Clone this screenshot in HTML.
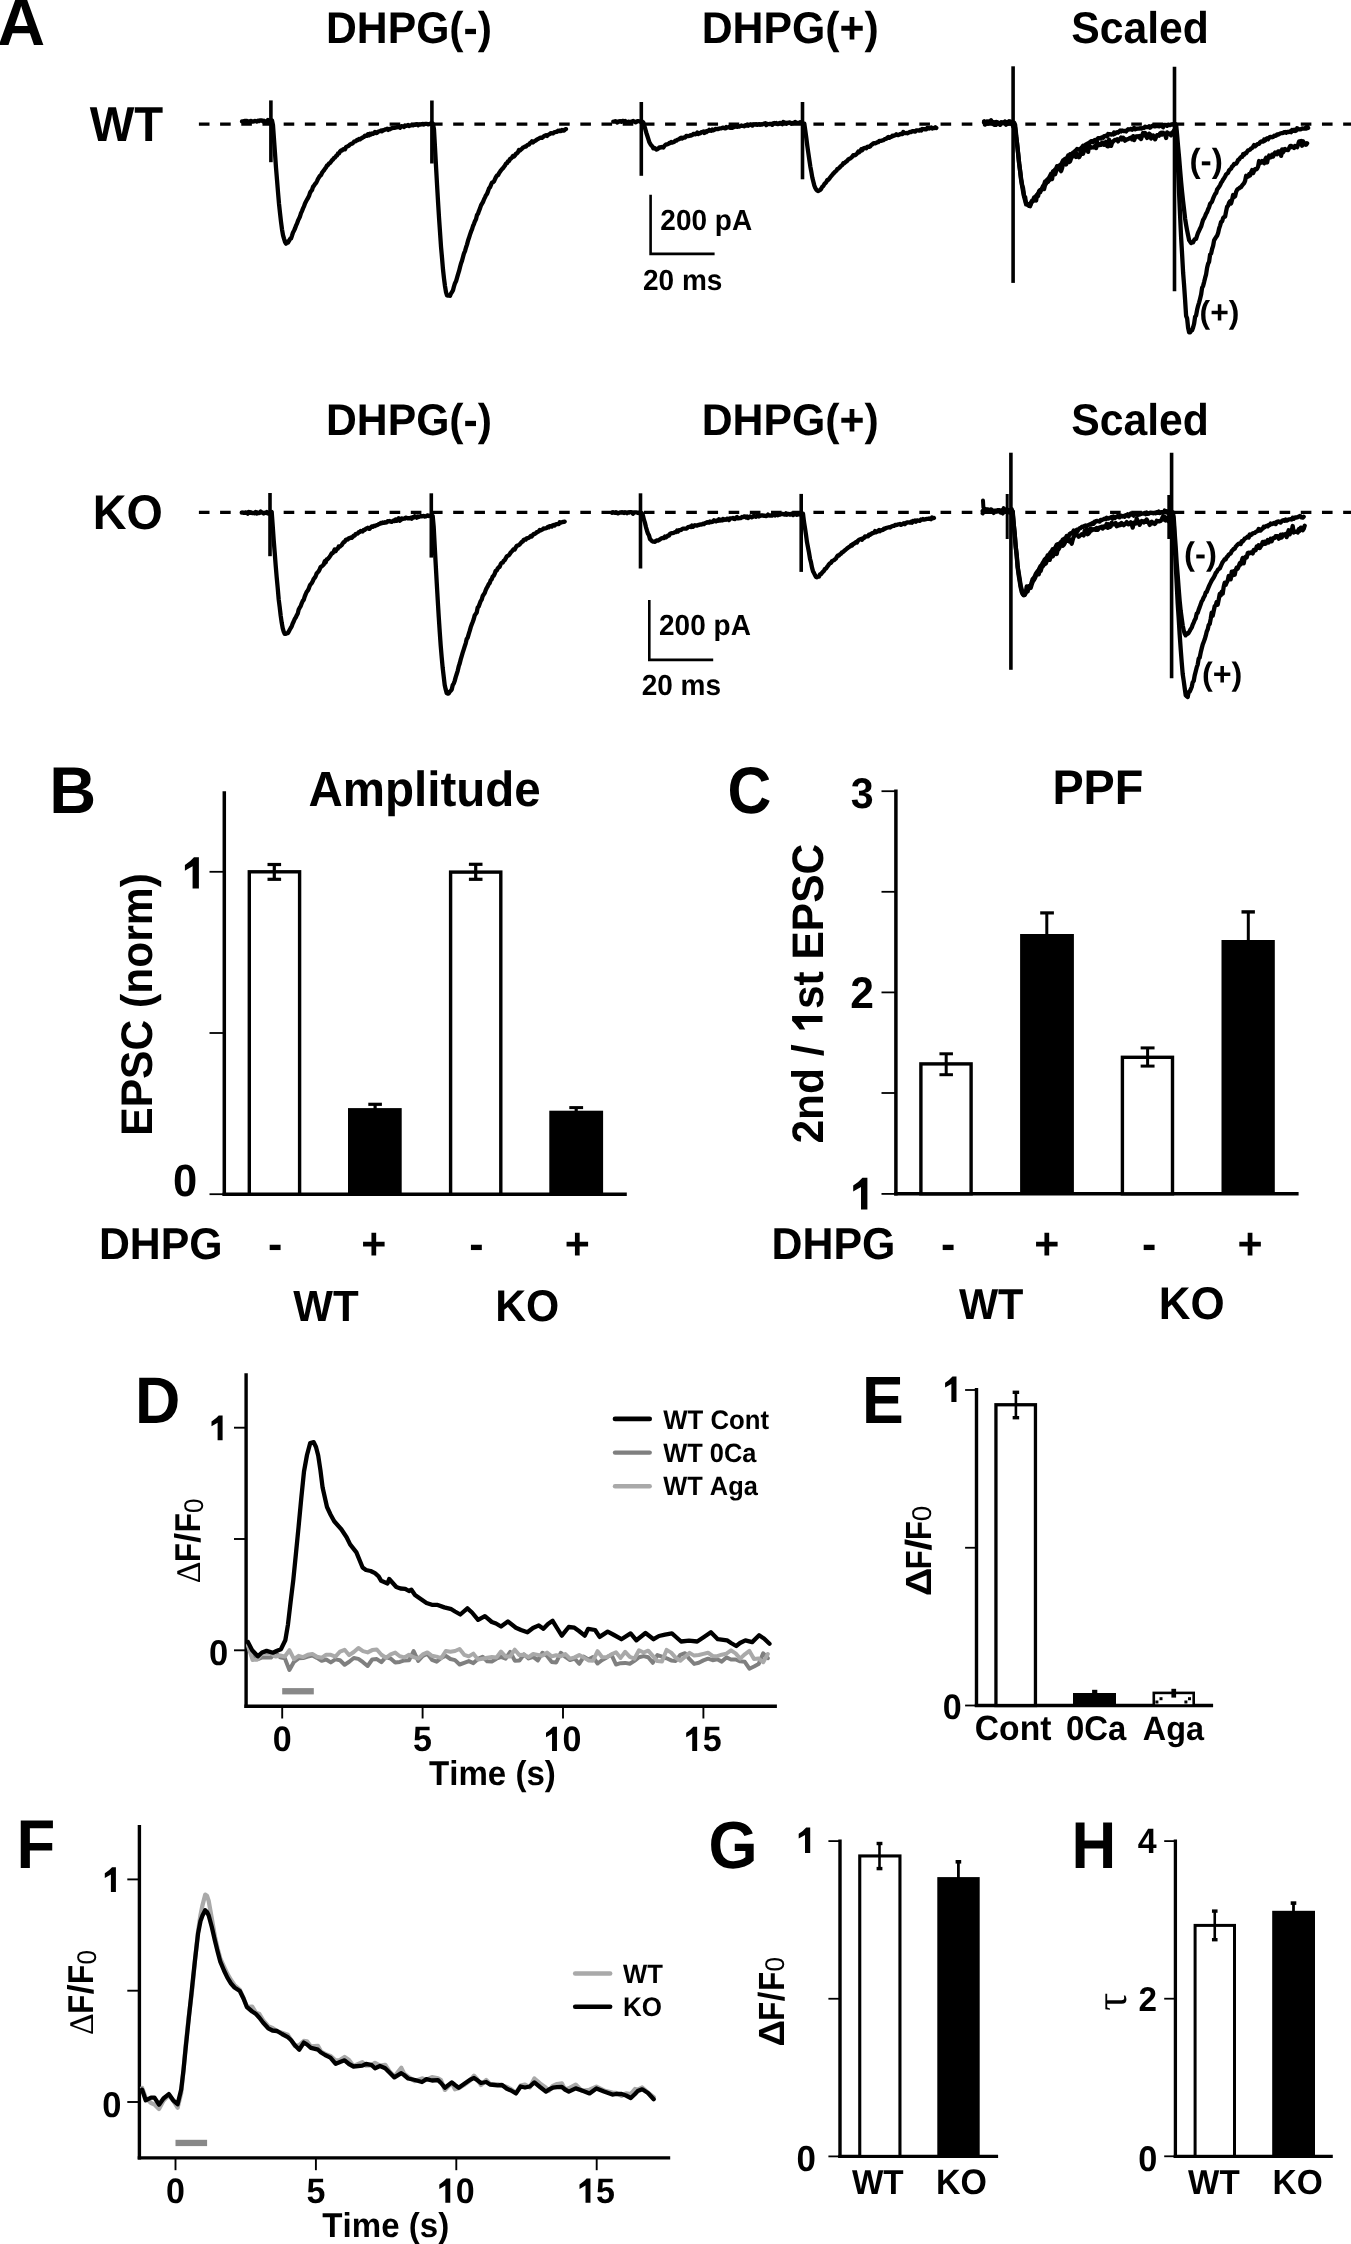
<!DOCTYPE html>
<html><head><meta charset="utf-8"><style>
html,body{margin:0;padding:0;background:#fff;}
body{width:1351px;height:2244px;overflow:hidden;}
svg{display:block;font-kerning:none;text-rendering:geometricPrecision;filter:grayscale(100%);}
</style></head><body>
<svg width="1351" height="2244" viewBox="0 0 1351 2244">
<rect width="1351" height="2244" fill="#fff"/>
<line x1="198.9" y1="124.2" x2="1351" y2="124.2" stroke="#000" stroke-width="3.3" stroke-dasharray="10.6 10.59"/>
<line x1="198.9" y1="512.4" x2="1351" y2="512.4" stroke="#000" stroke-width="3.3" stroke-dasharray="10.6 10.59"/>
<path d="M242.0,121.3 L243.0,121.4 L244.0,121.2 L245.0,120.9 L246.0,121.1 L247.0,120.8 L248.0,121.3 L249.0,122.0 L250.0,121.1 L251.0,121.0 L252.0,121.5 L253.0,121.5 L254.0,121.4 L255.0,120.8 L256.0,121.3 L257.0,121.6 L258.0,120.6 L259.0,121.1 L260.0,120.3 L261.0,120.7 L262.0,120.4 L263.0,121.2 L264.0,120.7 L265.0,121.4 L266.0,121.4 L267.0,121.2 L268.0,120.0 L269.0,121.0 L270.0,121.3 L271.0,121.4 L272.0,120.5 L273.0,125.3 L274.0,139.3 L275.0,153.3 L276.0,167.7 L277.0,179.7 L278.0,192.1 L279.0,203.7 L280.0,212.9 L281.0,221.8 L282.0,229.3 L283.0,235.1 L284.0,238.7 L285.0,242.0 L286.0,243.7 L287.0,242.0 L288.0,242.5 L289.0,240.9 L290.0,239.0 L291.0,238.4 L292.0,235.7 L293.0,232.5 L294.0,230.7 L295.0,228.5 L296.0,225.7 L297.0,223.6 L298.0,220.7 L299.0,218.6 L300.0,216.5 L301.0,213.1 L302.0,211.1 L303.0,208.4 L304.0,206.4 L305.0,203.5 L306.0,201.6 L307.0,199.6 L308.0,198.0 L309.0,196.1 L310.0,192.9 L311.0,191.1 L312.0,190.0 L313.0,186.8 L314.0,185.7 L315.0,184.1 L316.0,183.1 L317.0,181.1 L318.0,178.9 L319.0,177.3 L320.0,175.8 L321.0,175.2 L322.0,172.8 L323.0,171.4 L324.0,170.3 L325.0,168.7 L326.0,167.4 L327.0,165.6 L328.0,164.9 L329.0,163.5 L330.0,163.1 L331.0,161.7 L332.0,160.3 L333.0,159.5 L334.0,158.0 L335.0,157.6 L336.0,156.1 L337.0,155.4 L338.0,153.5 L339.0,153.4 L340.0,151.5 L341.0,150.5 L342.0,150.5 L343.0,149.4 L344.0,149.1 L345.0,149.4 L346.0,147.1 L347.0,146.5 L348.0,146.2 L349.0,145.6 L350.0,144.6 L351.0,143.9 L352.0,143.7 L353.0,143.0 L354.0,141.7 L355.0,141.5 L356.0,141.0 L357.0,139.9 L358.0,140.1 L359.0,139.0 L360.0,139.4 L361.0,138.5 L362.0,138.0 L363.0,137.2 L364.0,136.9 L365.0,135.6 L366.0,135.6 L367.0,135.9 L368.0,134.2 L369.0,135.3 L370.0,133.7 L371.0,134.5 L372.0,133.4 L373.0,133.8 L374.0,133.2 L375.0,132.0 L376.0,133.1 L377.0,132.9 L378.0,131.8 L379.0,131.4 L380.0,131.2 L381.0,130.5 L382.0,131.3 L383.0,130.2 L384.0,130.2 L385.0,129.5 L386.0,129.4 L387.0,128.8 L388.0,129.9 L389.0,128.9 L390.0,129.3 L391.0,128.6 L392.0,128.0 L393.0,128.0 L394.0,127.7 L395.0,127.8 L396.0,127.4 L397.0,127.3 L398.0,126.6 L399.0,126.7 L400.0,127.8 L401.0,126.4 L402.0,126.1 L403.0,126.6 L404.0,127.0 L405.0,125.5 L406.0,125.9 L407.0,125.6 L408.0,124.9 L409.0,126.0 L410.0,125.5 L411.0,125.4 L412.0,124.9 L413.0,125.4 L414.0,124.8 L415.0,124.9 L416.0,124.3 L417.0,124.2 L418.0,125.3 L419.0,124.3 L420.0,124.6 L421.0,124.4 L422.0,124.1 L423.0,124.0 L424.0,124.5 L425.0,123.9 L426.0,123.9 L427.0,123.9 L428.0,124.4 L429.0,124.1 L430.0,123.9 L431.0,123.3 L432.0,122.9 L433.0,124.0 L434.0,129.5 L435.0,147.5 L436.0,166.1 L437.0,184.0 L438.0,201.1 L439.0,217.4 L440.0,231.8 L441.0,246.6 L442.0,257.7 L443.0,269.6 L444.0,278.6 L445.0,286.1 L446.0,292.1 L447.0,295.5 L448.0,295.7 L449.0,295.4 L450.0,295.8 L451.0,293.5 L452.0,292.1 L453.0,290.2 L454.0,286.3 L455.0,283.2 L456.0,281.3 L457.0,277.9 L458.0,274.4 L459.0,271.2 L460.0,267.3 L461.0,263.5 L462.0,260.8 L463.0,257.0 L464.0,253.3 L465.0,251.1 L466.0,247.5 L467.0,244.6 L468.0,240.7 L469.0,237.8 L470.0,234.6 L471.0,231.7 L472.0,229.4 L473.0,226.0 L474.0,223.8 L475.0,221.1 L476.0,219.3 L477.0,215.1 L478.0,213.7 L479.0,210.8 L480.0,208.4 L481.0,205.4 L482.0,203.6 L483.0,202.0 L484.0,199.4 L485.0,197.4 L486.0,195.2 L487.0,193.9 L488.0,191.4 L489.0,188.4 L490.0,187.3 L491.0,184.9 L492.0,182.5 L493.0,182.2 L494.0,181.4 L495.0,179.2 L496.0,177.0 L497.0,175.6 L498.0,175.2 L499.0,173.2 L500.0,171.8 L501.0,170.3 L502.0,169.1 L503.0,168.2 L504.0,166.8 L505.0,165.4 L506.0,163.5 L507.0,163.2 L508.0,161.4 L509.0,161.2 L510.0,159.0 L511.0,158.5 L512.0,157.5 L513.0,155.9 L514.0,156.5 L515.0,155.4 L516.0,153.5 L517.0,153.3 L518.0,152.2 L519.0,149.9 L520.0,150.5 L521.0,149.5 L522.0,148.8 L523.0,147.5 L524.0,147.2 L525.0,146.5 L526.0,146.5 L527.0,145.4 L528.0,144.6 L529.0,144.7 L530.0,143.1 L531.0,142.5 L532.0,141.2 L533.0,142.4 L534.0,141.5 L535.0,140.9 L536.0,140.3 L537.0,139.5 L538.0,139.1 L539.0,138.4 L540.0,137.9 L541.0,137.6 L542.0,137.9 L543.0,137.0 L544.0,136.2 L545.0,135.6 L546.0,135.1 L547.0,135.9 L548.0,134.9 L549.0,134.4 L550.0,133.8 L551.0,133.1 L552.0,133.3 L553.0,133.4 L554.0,132.4 L555.0,132.2 L556.0,131.9 L557.0,131.8 L558.0,130.7 L559.0,131.1 L560.0,130.5 L561.0,131.1 L562.0,130.0 L563.0,130.4 L564.0,130.7 L565.0,129.5 L566.0,129.1" fill="none" stroke="#000" stroke-width="4.3" stroke-linejoin="round" stroke-linecap="round" />
<line x1="270.90" y1="100.40" x2="270.90" y2="162.20" stroke="#000" stroke-width="3.6" stroke-linecap="butt"/>
<line x1="431.90" y1="100.50" x2="431.90" y2="163.50" stroke="#000" stroke-width="3.6" stroke-linecap="butt"/>
<path d="M613.3,121.7 L614.3,121.6 L615.3,121.1 L616.3,121.8 L617.3,122.6 L618.3,121.5 L619.3,121.5 L620.3,121.1 L621.3,121.8 L622.3,121.0 L623.3,121.0 L624.3,122.2 L625.3,121.1 L626.3,122.1 L627.3,122.4 L628.3,121.7 L629.3,121.9 L630.3,122.6 L631.3,121.5 L632.3,121.3 L633.3,120.9 L634.3,121.6 L635.3,122.3 L636.3,122.1 L637.3,121.1 L638.3,121.2 L639.3,121.3 L640.3,121.7 L641.3,121.5 L642.3,121.7 L643.3,122.5 L644.3,125.7 L645.3,129.2 L646.3,132.7 L647.3,135.7 L648.3,138.9 L649.3,142.2 L650.3,143.8 L651.3,145.5 L652.3,146.2 L653.3,148.4 L654.3,148.0 L655.3,148.5 L656.3,149.6 L657.3,149.3 L658.3,148.6 L659.3,147.4 L660.3,147.6 L661.3,147.0 L662.3,147.2 L663.3,147.5 L664.3,146.0 L665.3,145.0 L666.3,144.3 L667.3,144.4 L668.3,143.9 L669.3,142.9 L670.3,143.1 L671.3,142.0 L672.3,142.7 L673.3,142.2 L674.3,141.8 L675.3,140.6 L676.3,140.7 L677.3,139.9 L678.3,139.4 L679.3,139.0 L680.3,138.2 L681.3,137.7 L682.3,138.5 L683.3,137.6 L684.3,137.5 L685.3,137.5 L686.3,135.8 L687.3,136.0 L688.3,136.1 L689.3,135.9 L690.3,135.2 L691.3,135.6 L692.3,134.9 L693.3,133.9 L694.3,133.8 L695.3,134.4 L696.3,133.9 L697.3,132.5 L698.3,133.9 L699.3,133.2 L700.3,133.3 L701.3,132.2 L702.3,132.1 L703.3,131.4 L704.3,133.0 L705.3,131.4 L706.3,132.1 L707.3,130.8 L708.3,131.0 L709.3,129.8 L710.3,130.3 L711.3,130.8 L712.3,129.5 L713.3,130.4 L714.3,129.9 L715.3,129.0 L716.3,129.1 L717.3,129.0 L718.3,129.0 L719.3,128.6 L720.3,128.3 L721.3,128.4 L722.3,127.9 L723.3,127.6 L724.3,128.1 L725.3,128.4 L726.3,127.1 L727.3,127.7 L728.3,127.2 L729.3,126.9 L730.3,127.7 L731.3,126.9 L732.3,127.8 L733.3,126.5 L734.3,127.0 L735.3,126.6 L736.3,126.2 L737.3,126.8 L738.3,126.3 L739.3,126.6 L740.3,126.1 L741.3,125.5 L742.3,125.9 L743.3,125.9 L744.3,126.3 L745.3,125.2 L746.3,125.6 L747.3,124.6 L748.3,125.7 L749.3,124.8 L750.3,124.4 L751.3,125.1 L752.3,125.6 L753.3,124.3 L754.3,124.4 L755.3,124.5 L756.3,124.2 L757.3,124.9 L758.3,124.3 L759.3,124.2 L760.3,124.8 L761.3,124.1 L762.3,124.6 L763.3,123.9 L764.3,123.7 L765.3,123.3 L766.3,125.1 L767.3,123.9 L768.3,124.2 L769.3,124.0 L770.3,124.0 L771.3,123.9 L772.3,124.8 L773.3,123.3 L774.3,123.0 L775.3,123.2 L776.3,123.0 L777.3,124.0 L778.3,124.0 L779.3,123.0 L780.3,122.8 L781.3,123.3 L782.3,124.1 L783.3,121.9 L784.3,123.6 L785.3,122.7 L786.3,123.8 L787.3,122.7 L788.3,123.0 L789.3,122.4 L790.3,122.6 L791.3,123.8 L792.3,123.4 L793.3,122.8 L794.3,122.5 L795.3,122.0 L796.3,122.7 L797.3,122.9 L798.3,122.8 L799.3,122.8 L800.3,122.2 L801.3,122.7 L802.3,122.7 L803.3,123.4 L804.3,123.6 L805.3,130.5 L806.3,137.9 L807.3,145.8 L808.3,152.8 L809.3,159.6 L810.3,166.3 L811.3,171.6 L812.3,177.5 L813.3,181.6 L814.3,185.4 L815.3,188.0 L816.3,189.7 L817.3,190.6 L818.3,191.1 L819.3,190.4 L820.3,189.9 L821.3,188.6 L822.3,186.6 L823.3,186.1 L824.3,184.1 L825.3,183.2 L826.3,182.1 L827.3,179.9 L828.3,179.8 L829.3,178.6 L830.3,177.3 L831.3,176.0 L832.3,174.9 L833.3,173.5 L834.3,172.7 L835.3,171.5 L836.3,170.8 L837.3,169.1 L838.3,168.8 L839.3,167.8 L840.3,166.7 L841.3,165.6 L842.3,165.1 L843.3,163.1 L844.3,163.3 L845.3,162.3 L846.3,161.5 L847.3,160.7 L848.3,159.4 L849.3,158.8 L850.3,158.4 L851.3,157.6 L852.3,156.7 L853.3,155.1 L854.3,155.4 L855.3,155.0 L856.3,154.2 L857.3,153.2 L858.3,151.6 L859.3,152.2 L860.3,151.0 L861.3,149.2 L862.3,150.1 L863.3,148.5 L864.3,148.1 L865.3,147.8 L866.3,148.2 L867.3,146.8 L868.3,146.6 L869.3,146.8 L870.3,146.3 L871.3,144.9 L872.3,144.3 L873.3,143.4 L874.3,143.2 L875.3,143.3 L876.3,142.8 L877.3,142.2 L878.3,142.2 L879.3,140.9 L880.3,140.9 L881.3,140.8 L882.3,140.4 L883.3,140.2 L884.3,139.5 L885.3,138.8 L886.3,138.8 L887.3,137.7 L888.3,137.0 L889.3,137.8 L890.3,137.2 L891.3,137.0 L892.3,135.7 L893.3,136.0 L894.3,135.6 L895.3,135.2 L896.3,134.2 L897.3,134.9 L898.3,135.2 L899.3,134.7 L900.3,133.9 L901.3,133.9 L902.3,134.1 L903.3,132.0 L904.3,133.1 L905.3,133.2 L906.3,133.0 L907.3,133.3 L908.3,132.8 L909.3,132.2 L910.3,131.9 L911.3,132.0 L912.3,131.1 L913.3,131.1 L914.3,131.4 L915.3,131.7 L916.3,130.5 L917.3,130.4 L918.3,130.3 L919.3,130.7 L920.3,129.8 L921.3,130.4 L922.3,129.0 L923.3,129.2 L924.3,129.1 L925.3,129.4 L926.3,129.4 L927.3,127.9 L928.3,128.1 L929.3,128.6 L930.3,127.9 L931.3,127.4 L932.3,128.5 L933.3,128.1 L934.3,128.0 L935.3,127.3 L936.3,128.0" fill="none" stroke="#000" stroke-width="4.3" stroke-linejoin="round" stroke-linecap="round" />
<line x1="641.30" y1="102.00" x2="641.30" y2="175.80" stroke="#000" stroke-width="3.6" stroke-linecap="butt"/>
<line x1="802.50" y1="102.00" x2="802.50" y2="179.30" stroke="#000" stroke-width="3.6" stroke-linecap="butt"/>
<path d="M984.1,122.3 L985.1,123.1 L986.1,121.9 L987.1,121.9 L988.1,122.5 L989.1,122.0 L990.1,122.8 L991.1,122.6 L992.1,121.8 L993.1,122.4 L994.1,122.2 L995.1,122.9 L996.1,122.0 L997.1,122.1 L998.1,123.1 L999.1,123.7 L1000.1,123.6 L1001.1,122.4 L1002.1,122.5 L1003.1,123.3 L1004.1,122.3 L1005.1,121.8 L1006.1,122.5 L1007.1,122.7 L1008.1,121.9 L1009.1,121.4 L1010.1,121.5 L1011.1,122.8 L1012.1,121.9 L1013.1,122.3 L1014.1,122.5 L1015.1,124.8 L1016.1,134.3 L1017.1,144.6 L1018.1,153.4 L1019.1,162.7 L1020.1,170.8 L1021.1,179.8 L1022.1,186.0 L1023.1,191.5 L1024.1,196.6 L1025.1,200.4 L1026.1,203.5 L1027.1,203.5 L1028.1,204.1 L1029.1,204.1 L1030.1,205.3 L1031.1,203.4 L1032.1,201.7 L1033.1,201.0 L1034.1,200.4 L1035.1,197.6 L1036.1,196.0 L1037.1,195.5 L1038.1,193.5 L1039.1,192.1 L1040.1,189.9 L1041.1,189.8 L1042.1,188.2 L1043.1,186.0 L1044.1,184.6 L1045.1,181.5 L1046.1,181.7 L1047.1,179.8 L1048.1,178.9 L1049.1,177.7 L1050.1,175.7 L1051.1,173.7 L1052.1,173.6 L1053.1,171.7 L1054.1,170.8 L1055.1,169.5 L1056.1,168.5 L1057.1,166.2 L1058.1,167.2 L1059.1,165.6 L1060.1,165.0 L1061.1,164.5 L1062.1,162.4 L1063.1,160.3 L1064.1,159.9 L1065.1,158.8 L1066.1,158.3 L1067.1,157.8 L1068.1,155.6 L1069.1,156.2 L1070.1,154.3 L1071.1,154.6 L1072.1,153.5 L1073.1,152.6 L1074.1,152.0 L1075.1,151.0 L1076.1,150.3 L1077.1,148.9 L1078.1,149.3 L1079.1,149.7 L1080.1,149.2 L1081.1,148.1 L1082.1,147.2 L1083.1,145.7 L1084.1,146.4 L1085.1,145.0 L1086.1,144.4 L1087.1,143.7 L1088.1,143.4 L1089.1,142.6 L1090.1,142.3 L1091.1,141.2 L1092.1,141.2 L1093.1,142.3 L1094.1,140.4 L1095.1,139.9 L1096.1,139.9 L1097.1,139.6 L1098.1,138.1 L1099.1,138.2 L1100.1,138.5 L1101.1,137.7 L1102.1,137.3 L1103.1,137.8 L1104.1,136.1 L1105.1,136.2 L1106.1,135.5 L1107.1,136.4 L1108.1,134.0 L1109.1,134.4 L1110.1,134.2 L1111.1,134.6 L1112.1,134.3 L1113.1,134.5 L1114.1,132.4 L1115.1,133.6 L1116.1,132.7 L1117.1,132.2 L1118.1,132.7 L1119.1,131.5 L1120.1,130.6 L1121.1,131.4 L1122.1,130.5 L1123.1,130.8 L1124.1,131.2 L1125.1,130.9 L1126.1,131.5 L1127.1,130.2 L1128.1,129.2 L1129.1,129.5 L1130.1,129.2 L1131.1,128.8 L1132.1,129.7 L1133.1,128.8 L1134.1,127.9 L1135.1,129.3 L1136.1,128.7 L1137.1,128.8 L1138.1,128.5 L1139.1,128.7 L1140.1,128.2 L1141.1,128.7 L1142.1,128.1 L1143.1,128.0 L1144.1,127.8 L1145.1,126.6 L1146.1,127.2 L1147.1,127.1 L1148.1,127.2 L1149.1,126.2 L1150.1,127.8 L1151.1,126.8 L1152.1,125.9 L1153.1,125.5 L1154.1,126.3 L1155.1,126.3 L1156.1,125.8 L1157.1,126.2 L1158.1,125.7 L1159.1,126.3 L1160.1,125.4 L1161.1,125.8 L1162.1,126.3 L1163.1,127.2 L1164.1,124.9 L1165.1,125.2 L1166.1,124.9 L1167.1,125.8 L1168.1,124.6 L1169.1,124.9 L1170.1,125.1 L1171.1,124.5 L1172.1,124.4 L1173.1,124.6 L1174.1,123.6 L1175.1,123.9 L1176.1,124.5 L1177.1,134.6 L1178.1,146.6 L1179.1,157.5 L1180.1,169.9 L1181.1,181.7 L1182.1,192.0 L1183.1,201.3 L1184.1,209.7 L1185.1,218.6 L1186.1,224.8 L1187.1,230.3 L1188.1,235.2 L1189.1,240.1 L1190.1,241.6 L1191.1,243.1 L1192.1,242.1 L1193.1,242.3 L1194.1,240.2 L1195.1,239.0 L1196.1,238.8 L1197.1,235.7 L1198.1,232.7 L1199.1,230.7 L1200.1,228.5 L1201.1,226.6 L1202.1,223.1 L1203.1,219.9 L1204.1,218.3 L1205.1,216.1 L1206.1,213.7 L1207.1,212.1 L1208.1,209.2 L1209.1,207.2 L1210.1,203.8 L1211.1,202.8 L1212.1,201.4 L1213.1,198.5 L1214.1,196.1 L1215.1,194.1 L1216.1,193.1 L1217.1,189.6 L1218.1,188.2 L1219.1,186.8 L1220.1,185.2 L1221.1,182.8 L1222.1,181.5 L1223.1,179.6 L1224.1,178.2 L1225.1,176.5 L1226.1,174.4 L1227.1,173.6 L1228.1,172.8 L1229.1,170.3 L1230.1,169.4 L1231.1,168.6 L1232.1,166.3 L1233.1,165.8 L1234.1,163.9 L1235.1,164.0 L1236.1,163.6 L1237.1,162.3 L1238.1,159.9 L1239.1,159.4 L1240.1,158.0 L1241.1,157.0 L1242.1,156.9 L1243.1,154.2 L1244.1,154.8 L1245.1,153.2 L1246.1,153.2 L1247.1,151.7 L1248.1,150.3 L1249.1,150.1 L1250.1,149.6 L1251.1,148.4 L1252.1,148.0 L1253.1,146.7 L1254.1,145.0 L1255.1,146.2 L1256.1,145.4 L1257.1,144.4 L1258.1,143.8 L1259.1,143.8 L1260.1,142.3 L1261.1,141.6 L1262.1,141.3 L1263.1,141.6 L1264.1,139.6 L1265.1,140.6 L1266.1,139.0 L1267.1,138.3 L1268.1,139.2 L1269.1,137.9 L1270.1,136.8 L1271.1,136.9 L1272.1,137.3 L1273.1,137.0 L1274.1,135.7 L1275.1,135.8 L1276.1,135.6 L1277.1,134.4 L1278.1,134.7 L1279.1,134.1 L1280.1,133.5 L1281.1,133.2 L1282.1,133.2 L1283.1,132.9 L1284.1,132.2 L1285.1,132.0 L1286.1,132.7 L1287.1,131.9 L1288.1,132.0 L1289.1,132.0 L1290.1,131.3 L1291.1,132.1 L1292.1,130.0 L1293.1,130.8 L1294.1,129.9 L1295.1,131.0 L1296.1,130.7 L1297.1,128.3 L1298.1,128.7 L1299.1,129.4 L1300.1,129.3 L1301.1,129.1 L1302.1,128.5 L1303.1,128.6 L1304.1,128.6 L1305.1,128.0 L1306.1,128.5 L1307.1,126.3 L1308.1,127.9" fill="none" stroke="#000" stroke-width="4.3" stroke-linejoin="round" stroke-linecap="round" />
<path d="M984.1,121.2 L985.1,124.6 L986.1,122.6 L987.1,121.5 L988.1,123.6 L989.1,121.5 L990.1,121.4 L991.1,120.3 L992.1,123.0 L993.1,123.8 L994.1,124.7 L995.1,122.8 L996.1,124.8 L997.1,123.0 L998.1,122.8 L999.1,124.0 L1000.1,124.8 L1001.1,122.4 L1002.1,122.6 L1003.1,122.7 L1004.1,123.1 L1005.1,121.5 L1006.1,124.7 L1007.1,122.3 L1008.1,123.8 L1009.1,121.6 L1010.1,123.6 L1011.1,123.7 L1012.1,122.3 L1013.1,126.4 L1014.1,123.6 L1015.1,128.0 L1016.1,136.3 L1017.1,143.2 L1018.1,152.9 L1019.1,163.2 L1020.1,170.9 L1021.1,178.6 L1022.1,184.9 L1023.1,188.4 L1024.1,196.2 L1025.1,196.9 L1026.1,204.4 L1027.1,204.4 L1028.1,205.3 L1029.1,206.0 L1030.1,206.2 L1031.1,202.4 L1032.1,200.7 L1033.1,200.5 L1034.1,197.4 L1035.1,197.8 L1036.1,200.6 L1037.1,194.6 L1038.1,196.0 L1039.1,191.1 L1040.1,192.4 L1041.1,189.9 L1042.1,188.9 L1043.1,188.5 L1044.1,189.1 L1045.1,185.1 L1046.1,183.6 L1047.1,180.4 L1048.1,181.8 L1049.1,179.1 L1050.1,179.7 L1051.1,177.0 L1052.1,179.0 L1053.1,171.5 L1054.1,173.3 L1055.1,174.3 L1056.1,171.2 L1057.1,169.4 L1058.1,169.4 L1059.1,166.5 L1060.1,168.1 L1061.1,171.2 L1062.1,168.1 L1063.1,163.4 L1064.1,162.9 L1065.1,162.9 L1066.1,164.5 L1067.1,160.6 L1068.1,160.1 L1069.1,162.0 L1070.1,161.2 L1071.1,158.4 L1072.1,156.5 L1073.1,155.1 L1074.1,155.9 L1075.1,152.6 L1076.1,157.0 L1077.1,154.1 L1078.1,155.4 L1079.1,157.2 L1080.1,155.4 L1081.1,150.9 L1082.1,153.8 L1083.1,153.8 L1084.1,150.0 L1085.1,149.2 L1086.1,150.1 L1087.1,147.1 L1088.1,151.9 L1089.1,144.8 L1090.1,146.6 L1091.1,147.6 L1092.1,147.3 L1093.1,147.5 L1094.1,147.3 L1095.1,146.1 L1096.1,148.1 L1097.1,142.1 L1098.1,145.4 L1099.1,143.9 L1100.1,145.0 L1101.1,144.8 L1102.1,142.5 L1103.1,142.7 L1104.1,144.8 L1105.1,143.8 L1106.1,141.8 L1107.1,146.1 L1108.1,146.3 L1109.1,139.7 L1110.1,142.4 L1111.1,145.9 L1112.1,142.7 L1113.1,141.6 L1114.1,140.6 L1115.1,139.8 L1116.1,140.2 L1117.1,139.4 L1118.1,141.4 L1119.1,139.3 L1120.1,139.0 L1121.1,137.6 L1122.1,139.4 L1123.1,137.7 L1124.1,138.8 L1125.1,140.7 L1126.1,139.4 L1127.1,139.5 L1128.1,139.1 L1129.1,138.5 L1130.1,138.0 L1131.1,137.6 L1132.1,139.3 L1133.1,136.1 L1134.1,140.1 L1135.1,137.7 L1136.1,136.3 L1137.1,136.6 L1138.1,136.2 L1139.1,137.6 L1140.1,136.0 L1141.1,139.0 L1142.1,135.5 L1143.1,132.9 L1144.1,135.3 L1145.1,133.0 L1146.1,136.2 L1147.1,137.9 L1148.1,137.1 L1149.1,133.6 L1150.1,134.4 L1151.1,138.6 L1152.1,136.0 L1153.1,135.4 L1154.1,137.0 L1155.1,139.3 L1156.1,137.2 L1157.1,135.1 L1158.1,135.4 L1159.1,135.7 L1160.1,133.5 L1161.1,132.7 L1162.1,134.5 L1163.1,132.7 L1164.1,134.1 L1165.1,134.2 L1166.1,138.0 L1167.1,132.4 L1168.1,133.6 L1169.1,133.4 L1170.1,134.4 L1171.1,135.3 L1172.1,132.6 L1173.1,132.0 L1174.1,130.5 L1175.1,128.7 L1176.1,131.1 L1177.1,148.8 L1178.1,170.0 L1179.1,193.6 L1180.1,215.9 L1181.1,237.2 L1182.1,254.4 L1183.1,272.5 L1184.1,285.4 L1185.1,300.0 L1186.1,315.9 L1187.1,318.3 L1188.1,327.7 L1189.1,332.3 L1190.1,332.4 L1191.1,330.8 L1192.1,330.2 L1193.1,327.5 L1194.1,323.8 L1195.1,316.8 L1196.1,315.4 L1197.1,309.8 L1198.1,305.8 L1199.1,302.5 L1200.1,298.7 L1201.1,294.6 L1202.1,287.8 L1203.1,285.9 L1204.1,282.1 L1205.1,277.9 L1206.1,274.3 L1207.1,267.7 L1208.1,263.8 L1209.1,261.8 L1210.1,254.5 L1211.1,253.6 L1212.1,249.0 L1213.1,245.9 L1214.1,240.4 L1215.1,238.7 L1216.1,237.1 L1217.1,235.7 L1218.1,233.1 L1219.1,228.5 L1220.1,225.6 L1221.1,221.9 L1222.1,221.5 L1223.1,218.0 L1224.1,217.0 L1225.1,216.7 L1226.1,211.4 L1227.1,206.8 L1228.1,205.7 L1229.1,202.7 L1230.1,201.2 L1231.1,203.5 L1232.1,199.8 L1233.1,195.0 L1234.1,197.0 L1235.1,196.3 L1236.1,191.9 L1237.1,189.8 L1238.1,188.8 L1239.1,188.3 L1240.1,187.5 L1241.1,187.0 L1242.1,185.6 L1243.1,184.2 L1244.1,183.2 L1245.1,180.8 L1246.1,175.8 L1247.1,177.0 L1248.1,176.6 L1249.1,174.3 L1250.1,175.4 L1251.1,172.1 L1252.1,170.1 L1253.1,173.1 L1254.1,170.8 L1255.1,169.1 L1256.1,169.4 L1257.1,168.7 L1258.1,166.6 L1259.1,161.0 L1260.1,163.2 L1261.1,162.7 L1262.1,161.1 L1263.1,162.3 L1264.1,163.2 L1265.1,159.7 L1266.1,157.8 L1267.1,162.5 L1268.1,157.6 L1269.1,155.6 L1270.1,157.5 L1271.1,157.2 L1272.1,154.7 L1273.1,156.6 L1274.1,153.9 L1275.1,152.6 L1276.1,153.9 L1277.1,154.3 L1278.1,151.4 L1279.1,152.6 L1280.1,151.3 L1281.1,155.8 L1282.1,149.3 L1283.1,152.4 L1284.1,149.5 L1285.1,149.0 L1286.1,150.0 L1287.1,149.8 L1288.1,150.1 L1289.1,148.1 L1290.1,146.1 L1291.1,145.8 L1292.1,147.2 L1293.1,147.0 L1294.1,148.0 L1295.1,146.0 L1296.1,146.7 L1297.1,147.2 L1298.1,144.5 L1299.1,141.4 L1300.1,141.6 L1301.1,140.9 L1302.1,145.7 L1303.1,141.3 L1304.1,144.5 L1305.1,143.2 L1306.1,144.8 L1307.1,143.3" fill="none" stroke="#000" stroke-width="4.3" stroke-linejoin="round" stroke-linecap="round" />
<line x1="1013.10" y1="66.30" x2="1013.10" y2="282.90" stroke="#000" stroke-width="3.6" stroke-linecap="butt"/>
<line x1="1174.50" y1="66.80" x2="1174.50" y2="291.30" stroke="#000" stroke-width="3.6" stroke-linecap="butt"/>
<path d="M241.7,512.7 L242.7,512.7 L243.7,512.8 L244.7,512.9 L245.7,512.5 L246.7,512.8 L247.7,513.6 L248.7,511.9 L249.7,512.9 L250.7,512.3 L251.7,512.9 L252.7,513.2 L253.7,512.8 L254.7,513.2 L255.7,512.0 L256.7,513.4 L257.7,512.5 L258.7,513.1 L259.7,512.9 L260.7,511.5 L261.7,512.4 L262.7,512.9 L263.7,513.6 L264.7,512.9 L265.7,512.9 L266.7,512.1 L267.7,513.5 L268.7,513.7 L269.7,512.8 L270.7,512.7 L271.7,512.0 L272.7,525.7 L273.7,540.2 L274.7,552.5 L275.7,565.6 L276.7,577.4 L277.7,587.9 L278.7,599.4 L279.7,607.3 L280.7,615.8 L281.7,622.7 L282.7,628.2 L283.7,631.7 L284.7,633.9 L285.7,633.9 L286.7,633.4 L287.7,633.2 L288.7,631.7 L289.7,629.8 L290.7,628.0 L291.7,626.4 L292.7,623.5 L293.7,621.5 L294.7,619.0 L295.7,617.6 L296.7,615.3 L297.7,613.7 L298.7,609.6 L299.7,607.7 L300.7,606.1 L301.7,603.3 L302.7,601.0 L303.7,599.8 L304.7,596.6 L305.7,594.1 L306.7,591.9 L307.7,590.7 L308.7,588.7 L309.7,585.9 L310.7,584.2 L311.7,583.1 L312.7,581.3 L313.7,578.9 L314.7,577.8 L315.7,576.1 L316.7,573.3 L317.7,572.4 L318.7,571.2 L319.7,569.2 L320.7,566.9 L321.7,566.4 L322.7,565.5 L323.7,564.5 L324.7,561.3 L325.7,562.4 L326.7,559.3 L327.7,559.1 L328.7,558.0 L329.7,556.7 L330.7,555.1 L331.7,553.4 L332.7,553.2 L333.7,551.5 L334.7,549.5 L335.7,551.2 L336.7,549.1 L337.7,548.8 L338.7,546.5 L339.7,546.7 L340.7,545.9 L341.7,545.1 L342.7,543.4 L343.7,542.0 L344.7,541.8 L345.7,540.0 L346.7,539.5 L347.7,539.6 L348.7,538.4 L349.7,538.1 L350.7,537.5 L351.7,537.8 L352.7,536.9 L353.7,535.6 L354.7,535.6 L355.7,534.0 L356.7,533.7 L357.7,533.7 L358.7,532.1 L359.7,532.1 L360.7,531.0 L361.7,531.2 L362.7,531.5 L363.7,529.8 L364.7,529.9 L365.7,528.9 L366.7,528.3 L367.7,527.8 L368.7,528.8 L369.7,528.8 L370.7,527.5 L371.7,526.5 L372.7,526.8 L373.7,525.9 L374.7,526.2 L375.7,525.6 L376.7,525.2 L377.7,525.0 L378.7,524.1 L379.7,523.9 L380.7,523.0 L381.7,523.3 L382.7,522.5 L383.7,522.9 L384.7,522.2 L385.7,522.5 L386.7,522.4 L387.7,521.2 L388.7,521.3 L389.7,521.0 L390.7,521.6 L391.7,521.8 L392.7,521.2 L393.7,520.4 L394.7,521.1 L395.7,519.4 L396.7,520.7 L397.7,519.4 L398.7,518.2 L399.7,520.7 L400.7,520.0 L401.7,518.5 L402.7,519.0 L403.7,518.6 L404.7,518.6 L405.7,517.7 L406.7,517.9 L407.7,518.4 L408.7,518.1 L409.7,518.4 L410.7,517.7 L411.7,518.7 L412.7,517.1 L413.7,517.5 L414.7,516.2 L415.7,516.5 L416.7,517.6 L417.7,516.4 L418.7,517.0 L419.7,516.6 L420.7,516.0 L421.7,516.3 L422.7,516.1 L423.7,516.0 L424.7,516.5 L425.7,516.4 L426.7,515.7 L427.7,515.4 L428.7,516.0 L429.7,515.7 L430.7,516.2 L431.7,516.9 L432.7,515.9 L433.7,526.9 L434.7,545.9 L435.7,564.2 L436.7,582.2 L437.7,599.5 L438.7,616.1 L439.7,631.3 L440.7,645.6 L441.7,657.4 L442.7,668.1 L443.7,676.5 L444.7,685.0 L445.7,689.4 L446.7,693.1 L447.7,693.6 L448.7,693.6 L449.7,691.7 L450.7,690.7 L451.7,689.6 L452.7,685.2 L453.7,683.6 L454.7,680.9 L455.7,677.1 L456.7,674.0 L457.7,670.8 L458.7,666.4 L459.7,663.5 L460.7,659.4 L461.7,656.1 L462.7,652.7 L463.7,649.6 L464.7,646.4 L465.7,643.3 L466.7,639.1 L467.7,637.7 L468.7,634.1 L469.7,630.9 L470.7,627.3 L471.7,624.6 L472.7,622.0 L473.7,619.2 L474.7,615.4 L475.7,613.9 L476.7,612.5 L477.7,607.5 L478.7,606.5 L479.7,603.7 L480.7,601.1 L481.7,599.6 L482.7,596.0 L483.7,594.5 L484.7,593.1 L485.7,590.1 L486.7,588.0 L487.7,586.3 L488.7,584.1 L489.7,583.2 L490.7,580.1 L491.7,579.3 L492.7,576.4 L493.7,575.7 L494.7,573.7 L495.7,570.8 L496.7,570.6 L497.7,568.5 L498.7,567.3 L499.7,566.9 L500.7,564.1 L501.7,562.8 L502.7,562.7 L503.7,560.8 L504.7,560.2 L505.7,558.4 L506.7,556.5 L507.7,555.8 L508.7,555.3 L509.7,554.1 L510.7,552.5 L511.7,551.5 L512.7,550.4 L513.7,549.1 L514.7,549.5 L515.7,547.5 L516.7,546.0 L517.7,545.5 L518.7,545.2 L519.7,544.3 L520.7,543.1 L521.7,542.0 L522.7,541.6 L523.7,539.9 L524.7,539.4 L525.7,539.7 L526.7,538.4 L527.7,538.1 L528.7,537.9 L529.7,537.0 L530.7,536.0 L531.7,536.5 L532.7,535.1 L533.7,534.0 L534.7,534.0 L535.7,533.3 L536.7,532.1 L537.7,532.0 L538.7,531.4 L539.7,530.0 L540.7,530.4 L541.7,529.9 L542.7,529.4 L543.7,528.3 L544.7,528.5 L545.7,528.3 L546.7,527.9 L547.7,526.9 L548.7,527.4 L549.7,526.1 L550.7,526.2 L551.7,526.6 L552.7,525.3 L553.7,525.0 L554.7,525.5 L555.7,524.4 L556.7,524.2 L557.7,524.1 L558.7,524.2 L559.7,522.3 L560.7,522.7 L561.7,522.3 L562.7,522.0 L563.7,521.9 L564.7,521.6" fill="none" stroke="#000" stroke-width="4.3" stroke-linejoin="round" stroke-linecap="round" />
<line x1="270.00" y1="493.00" x2="270.00" y2="556.20" stroke="#000" stroke-width="3.6" stroke-linecap="butt"/>
<line x1="431.30" y1="493.30" x2="431.30" y2="557.60" stroke="#000" stroke-width="3.6" stroke-linecap="butt"/>
<path d="M612.0,512.8 L613.0,512.1 L614.0,512.7 L615.0,512.8 L616.0,512.2 L617.0,512.7 L618.0,513.4 L619.0,512.8 L620.0,512.3 L621.0,512.6 L622.0,512.1 L623.0,512.7 L624.0,513.0 L625.0,512.2 L626.0,512.5 L627.0,513.2 L628.0,512.3 L629.0,512.7 L630.0,512.1 L631.0,512.2 L632.0,512.3 L633.0,513.7 L634.0,512.4 L635.0,512.3 L636.0,512.3 L637.0,512.5 L638.0,512.9 L639.0,512.7 L640.0,513.6 L641.0,512.7 L642.0,513.3 L643.0,515.7 L644.0,519.9 L645.0,522.9 L646.0,527.3 L647.0,530.7 L648.0,533.7 L649.0,535.4 L650.0,539.1 L651.0,540.0 L652.0,541.1 L653.0,541.6 L654.0,541.6 L655.0,541.8 L656.0,540.7 L657.0,540.4 L658.0,540.6 L659.0,540.1 L660.0,539.3 L661.0,538.7 L662.0,538.1 L663.0,538.0 L664.0,538.1 L665.0,536.5 L666.0,537.3 L667.0,536.5 L668.0,535.4 L669.0,535.5 L670.0,533.9 L671.0,533.3 L672.0,533.1 L673.0,533.1 L674.0,532.7 L675.0,532.2 L676.0,532.1 L677.0,530.6 L678.0,531.5 L679.0,530.2 L680.0,530.2 L681.0,529.9 L682.0,529.2 L683.0,528.7 L684.0,528.6 L685.0,528.7 L686.0,528.7 L687.0,528.3 L688.0,527.2 L689.0,527.0 L690.0,526.6 L691.0,527.0 L692.0,525.5 L693.0,526.8 L694.0,525.7 L695.0,525.2 L696.0,525.5 L697.0,525.6 L698.0,525.0 L699.0,525.1 L700.0,524.4 L701.0,524.7 L702.0,524.5 L703.0,523.6 L704.0,524.1 L705.0,523.2 L706.0,523.0 L707.0,522.2 L708.0,522.4 L709.0,522.7 L710.0,521.4 L711.0,522.2 L712.0,521.9 L713.0,521.6 L714.0,520.2 L715.0,521.1 L716.0,521.3 L717.0,520.4 L718.0,520.7 L719.0,519.2 L720.0,520.6 L721.0,519.8 L722.0,520.4 L723.0,518.9 L724.0,520.0 L725.0,519.4 L726.0,519.8 L727.0,518.7 L728.0,518.8 L729.0,520.1 L730.0,518.4 L731.0,518.3 L732.0,518.4 L733.0,517.9 L734.0,518.9 L735.0,519.0 L736.0,517.7 L737.0,517.1 L738.0,518.4 L739.0,518.3 L740.0,518.0 L741.0,518.1 L742.0,517.0 L743.0,517.2 L744.0,516.5 L745.0,516.4 L746.0,517.5 L747.0,516.6 L748.0,518.0 L749.0,516.8 L750.0,516.3 L751.0,517.0 L752.0,517.4 L753.0,516.6 L754.0,515.7 L755.0,516.4 L756.0,516.9 L757.0,515.8 L758.0,515.6 L759.0,516.5 L760.0,515.9 L761.0,515.3 L762.0,515.6 L763.0,515.3 L764.0,515.8 L765.0,515.6 L766.0,516.1 L767.0,515.8 L768.0,514.6 L769.0,515.5 L770.0,515.7 L771.0,515.4 L772.0,515.7 L773.0,514.8 L774.0,514.6 L775.0,515.4 L776.0,514.4 L777.0,513.8 L778.0,515.3 L779.0,514.4 L780.0,514.6 L781.0,514.0 L782.0,514.0 L783.0,514.0 L784.0,514.4 L785.0,514.7 L786.0,513.3 L787.0,514.8 L788.0,513.8 L789.0,513.8 L790.0,514.7 L791.0,514.3 L792.0,513.5 L793.0,515.1 L794.0,513.8 L795.0,514.3 L796.0,514.2 L797.0,514.8 L798.0,513.8 L799.0,514.5 L800.0,513.6 L801.0,514.5 L802.0,513.6 L803.0,513.7 L804.0,521.9 L805.0,528.0 L806.0,534.7 L807.0,542.2 L808.0,547.4 L809.0,552.6 L810.0,558.7 L811.0,562.4 L812.0,567.7 L813.0,571.2 L814.0,573.1 L815.0,575.2 L816.0,576.9 L817.0,577.3 L818.0,576.6 L819.0,576.6 L820.0,574.3 L821.0,574.0 L822.0,572.8 L823.0,571.7 L824.0,570.8 L825.0,568.8 L826.0,568.6 L827.0,567.1 L828.0,565.7 L829.0,564.2 L830.0,563.2 L831.0,562.9 L832.0,561.2 L833.0,560.7 L834.0,560.2 L835.0,559.2 L836.0,558.5 L837.0,556.6 L838.0,555.3 L839.0,555.5 L840.0,554.2 L841.0,553.8 L842.0,552.3 L843.0,552.1 L844.0,551.1 L845.0,550.2 L846.0,549.4 L847.0,548.5 L848.0,547.7 L849.0,547.0 L850.0,546.6 L851.0,545.2 L852.0,545.6 L853.0,544.0 L854.0,543.9 L855.0,542.7 L856.0,542.0 L857.0,542.5 L858.0,540.7 L859.0,539.7 L860.0,539.4 L861.0,539.0 L862.0,539.7 L863.0,538.1 L864.0,538.0 L865.0,536.5 L866.0,536.6 L867.0,536.3 L868.0,536.4 L869.0,534.6 L870.0,534.8 L871.0,534.2 L872.0,533.1 L873.0,533.2 L874.0,532.6 L875.0,531.1 L876.0,532.2 L877.0,531.8 L878.0,530.9 L879.0,530.0 L880.0,531.1 L881.0,530.1 L882.0,530.1 L883.0,529.9 L884.0,528.6 L885.0,528.9 L886.0,528.1 L887.0,527.8 L888.0,527.5 L889.0,527.2 L890.0,527.5 L891.0,526.7 L892.0,526.3 L893.0,525.9 L894.0,525.9 L895.0,525.0 L896.0,525.0 L897.0,524.9 L898.0,524.4 L899.0,524.4 L900.0,523.9 L901.0,524.9 L902.0,524.4 L903.0,523.7 L904.0,523.2 L905.0,524.1 L906.0,523.0 L907.0,522.5 L908.0,522.5 L909.0,522.3 L910.0,522.7 L911.0,521.8 L912.0,522.6 L913.0,520.9 L914.0,521.5 L915.0,520.5 L916.0,521.7 L917.0,520.5 L918.0,520.5 L919.0,520.8 L920.0,520.8 L921.0,519.5 L922.0,519.7 L923.0,519.0 L924.0,519.6 L925.0,519.4 L926.0,519.1 L927.0,518.8 L928.0,518.8 L929.0,518.5 L930.0,519.0 L931.0,519.3 L932.0,517.5 L933.0,518.3 L934.0,518.0" fill="none" stroke="#000" stroke-width="4.3" stroke-linejoin="round" stroke-linecap="round" />
<line x1="640.50" y1="493.30" x2="640.50" y2="568.50" stroke="#000" stroke-width="3.6" stroke-linecap="butt"/>
<line x1="801.20" y1="493.90" x2="801.20" y2="571.90" stroke="#000" stroke-width="3.6" stroke-linecap="butt"/>
<path d="M982.7,511.1 L983.7,510.2 L984.7,510.7 L985.7,510.2 L986.7,511.2 L987.7,510.9 L988.7,510.7 L989.7,511.0 L990.7,510.7 L991.7,509.9 L992.7,511.2 L993.7,511.0 L994.7,510.7 L995.7,511.4 L996.7,511.5 L997.7,510.1 L998.7,510.3 L999.7,511.7 L1000.7,511.7 L1001.7,510.4 L1002.7,510.1 L1003.7,510.4 L1004.7,510.5 L1005.7,509.8 L1006.7,510.8 L1007.7,510.0 L1008.7,510.1 L1009.7,511.3 L1010.7,510.4 L1011.7,510.8 L1012.7,511.2 L1013.7,523.5 L1014.7,534.7 L1015.7,546.3 L1016.7,556.4 L1017.7,567.6 L1018.7,575.4 L1019.7,581.4 L1020.7,587.6 L1021.7,591.9 L1022.7,593.8 L1023.7,595.1 L1024.7,594.3 L1025.7,592.2 L1026.7,591.1 L1027.7,588.8 L1028.7,587.9 L1029.7,586.0 L1030.7,585.7 L1031.7,582.2 L1032.7,579.0 L1033.7,578.0 L1034.7,576.6 L1035.7,574.0 L1036.7,572.5 L1037.7,571.1 L1038.7,569.8 L1039.7,567.8 L1040.7,565.8 L1041.7,565.2 L1042.7,562.9 L1043.7,561.4 L1044.7,559.4 L1045.7,558.4 L1046.7,557.9 L1047.7,555.2 L1048.7,554.8 L1049.7,554.0 L1050.7,552.1 L1051.7,551.3 L1052.7,549.3 L1053.7,549.7 L1054.7,548.5 L1055.7,546.9 L1056.7,544.6 L1057.7,544.1 L1058.7,544.3 L1059.7,543.8 L1060.7,542.0 L1061.7,541.7 L1062.7,539.7 L1063.7,539.1 L1064.7,538.4 L1065.7,537.9 L1066.7,535.9 L1067.7,536.7 L1068.7,536.2 L1069.7,534.0 L1070.7,533.2 L1071.7,533.5 L1072.7,532.3 L1073.7,530.6 L1074.7,531.9 L1075.7,530.9 L1076.7,529.9 L1077.7,530.9 L1078.7,529.2 L1079.7,528.1 L1080.7,528.1 L1081.7,527.0 L1082.7,526.6 L1083.7,526.9 L1084.7,525.8 L1085.7,525.5 L1086.7,526.3 L1087.7,525.4 L1088.7,524.9 L1089.7,524.4 L1090.7,524.0 L1091.7,524.2 L1092.7,522.9 L1093.7,523.7 L1094.7,521.7 L1095.7,521.8 L1096.7,520.8 L1097.7,521.1 L1098.7,521.3 L1099.7,521.6 L1100.7,520.0 L1101.7,520.1 L1102.7,519.6 L1103.7,519.2 L1104.7,518.6 L1105.7,519.1 L1106.7,517.8 L1107.7,518.7 L1108.7,518.4 L1109.7,517.8 L1110.7,517.4 L1111.7,516.9 L1112.7,518.7 L1113.7,516.6 L1114.7,518.1 L1115.7,517.3 L1116.7,516.6 L1117.7,515.9 L1118.7,517.1 L1119.7,517.3 L1120.7,515.6 L1121.7,515.8 L1122.7,516.5 L1123.7,515.9 L1124.7,516.7 L1125.7,515.1 L1126.7,515.6 L1127.7,514.4 L1128.7,516.3 L1129.7,514.5 L1130.7,513.5 L1131.7,514.6 L1132.7,514.5 L1133.7,515.6 L1134.7,514.1 L1135.7,514.2 L1136.7,514.5 L1137.7,515.0 L1138.7,513.9 L1139.7,514.5 L1140.7,514.1 L1141.7,513.5 L1142.7,513.6 L1143.7,513.5 L1144.7,512.9 L1145.7,514.1 L1146.7,512.5 L1147.7,513.9 L1148.7,513.7 L1149.7,513.0 L1150.7,512.6 L1151.7,512.8 L1152.7,513.2 L1153.7,513.3 L1154.7,512.9 L1155.7,513.3 L1156.7,512.3 L1157.7,512.7 L1158.7,511.6 L1159.7,513.0 L1160.7,512.5 L1161.7,512.1 L1162.7,513.0 L1163.7,512.7 L1164.7,510.6 L1165.7,512.2 L1166.7,511.3 L1167.7,512.8 L1168.7,513.6 L1169.7,511.8 L1170.7,512.1 L1171.7,511.8 L1172.7,512.2 L1173.7,517.0 L1174.7,533.0 L1175.7,546.9 L1176.7,563.1 L1177.7,575.4 L1178.7,589.0 L1179.7,601.1 L1180.7,610.9 L1181.7,618.4 L1182.7,625.3 L1183.7,630.4 L1184.7,633.6 L1185.7,635.3 L1186.7,633.5 L1187.7,633.8 L1188.7,632.7 L1189.7,631.0 L1190.7,629.1 L1191.7,627.6 L1192.7,624.7 L1193.7,622.6 L1194.7,620.0 L1195.7,618.3 L1196.7,613.6 L1197.7,613.0 L1198.7,609.6 L1199.7,607.1 L1200.7,604.3 L1201.7,601.4 L1202.7,599.9 L1203.7,597.4 L1204.7,595.9 L1205.7,592.5 L1206.7,592.1 L1207.7,589.3 L1208.7,586.9 L1209.7,584.6 L1210.7,582.6 L1211.7,580.5 L1212.7,579.0 L1213.7,577.5 L1214.7,575.6 L1215.7,573.1 L1216.7,572.1 L1217.7,570.1 L1218.7,569.1 L1219.7,568.5 L1220.7,566.3 L1221.7,564.2 L1222.7,562.0 L1223.7,560.7 L1224.7,559.2 L1225.7,559.3 L1226.7,557.1 L1227.7,556.3 L1228.7,554.7 L1229.7,553.9 L1230.7,553.5 L1231.7,551.1 L1232.7,550.2 L1233.7,548.9 L1234.7,548.8 L1235.7,546.7 L1236.7,545.6 L1237.7,544.5 L1238.7,543.6 L1239.7,543.8 L1240.7,544.1 L1241.7,541.1 L1242.7,541.5 L1243.7,540.2 L1244.7,538.6 L1245.7,538.3 L1246.7,537.6 L1247.7,536.6 L1248.7,537.5 L1249.7,534.5 L1250.7,535.2 L1251.7,534.5 L1252.7,533.3 L1253.7,533.1 L1254.7,532.9 L1255.7,531.9 L1256.7,531.5 L1257.7,531.1 L1258.7,528.9 L1259.7,530.5 L1260.7,530.5 L1261.7,529.2 L1262.7,528.7 L1263.7,526.8 L1264.7,527.1 L1265.7,526.2 L1266.7,525.9 L1267.7,526.4 L1268.7,525.0 L1269.7,525.0 L1270.7,523.5 L1271.7,524.2 L1272.7,524.0 L1273.7,523.1 L1274.7,522.8 L1275.7,524.0 L1276.7,521.8 L1277.7,521.6 L1278.7,521.4 L1279.7,522.3 L1280.7,522.6 L1281.7,521.2 L1282.7,520.3 L1283.7,520.2 L1284.7,520.8 L1285.7,519.4 L1286.7,520.6 L1287.7,520.3 L1288.7,519.3 L1289.7,519.4 L1290.7,519.2 L1291.7,519.5 L1292.7,517.7 L1293.7,518.8 L1294.7,517.7 L1295.7,517.3 L1296.7,517.6 L1297.7,517.2 L1298.7,516.6 L1299.7,516.0 L1300.7,516.3 L1301.7,517.5 L1302.7,517.7 L1303.7,516.7" fill="none" stroke="#000" stroke-width="4.3" stroke-linejoin="round" stroke-linecap="round" />
<path d="M982.7,513.2 L983.7,510.3 L984.7,511.1 L985.7,511.7 L986.7,509.4 L987.7,509.5 L988.7,511.4 L989.7,510.7 L990.7,509.4 L991.7,511.9 L992.7,510.8 L993.7,512.9 L994.7,511.2 L995.7,510.7 L996.7,511.4 L997.7,510.9 L998.7,510.1 L999.7,510.5 L1000.7,512.5 L1001.7,512.3 L1002.7,513.4 L1003.7,508.3 L1004.7,510.5 L1005.7,510.5 L1006.7,511.5 L1007.7,510.4 L1008.7,510.3 L1009.7,512.5 L1010.7,511.5 L1011.7,509.2 L1012.7,513.5 L1013.7,524.5 L1014.7,533.2 L1015.7,546.6 L1016.7,554.2 L1017.7,566.8 L1018.7,572.9 L1019.7,579.1 L1020.7,585.7 L1021.7,589.5 L1022.7,594.0 L1023.7,595.2 L1024.7,594.9 L1025.7,593.1 L1026.7,586.5 L1027.7,591.4 L1028.7,586.3 L1029.7,588.2 L1030.7,587.9 L1031.7,584.6 L1032.7,581.7 L1033.7,580.3 L1034.7,578.7 L1035.7,576.3 L1036.7,574.5 L1037.7,572.3 L1038.7,574.3 L1039.7,570.7 L1040.7,570.9 L1041.7,567.3 L1042.7,566.4 L1043.7,564.6 L1044.7,564.3 L1045.7,563.6 L1046.7,561.2 L1047.7,558.4 L1048.7,557.0 L1049.7,559.9 L1050.7,555.5 L1051.7,554.4 L1052.7,556.4 L1053.7,554.7 L1054.7,552.8 L1055.7,550.2 L1056.7,554.0 L1057.7,549.8 L1058.7,549.2 L1059.7,547.1 L1060.7,544.1 L1061.7,543.5 L1062.7,545.7 L1063.7,544.9 L1064.7,543.1 L1065.7,540.8 L1066.7,539.6 L1067.7,540.8 L1068.7,538.3 L1069.7,541.6 L1070.7,541.4 L1071.7,543.7 L1072.7,539.8 L1073.7,536.7 L1074.7,535.7 L1075.7,530.8 L1076.7,535.1 L1077.7,535.3 L1078.7,536.8 L1079.7,535.7 L1080.7,535.2 L1081.7,534.2 L1082.7,534.5 L1083.7,535.4 L1084.7,530.7 L1085.7,531.4 L1086.7,529.4 L1087.7,534.2 L1088.7,533.3 L1089.7,532.0 L1090.7,528.4 L1091.7,530.4 L1092.7,529.4 L1093.7,529.6 L1094.7,528.9 L1095.7,529.8 L1096.7,528.0 L1097.7,529.8 L1098.7,528.6 L1099.7,527.4 L1100.7,527.5 L1101.7,526.7 L1102.7,528.6 L1103.7,526.6 L1104.7,527.3 L1105.7,526.0 L1106.7,523.9 L1107.7,527.8 L1108.7,524.3 L1109.7,527.1 L1110.7,526.5 L1111.7,522.8 L1112.7,523.9 L1113.7,524.4 L1114.7,523.8 L1115.7,523.0 L1116.7,526.2 L1117.7,524.4 L1118.7,525.4 L1119.7,523.9 L1120.7,525.0 L1121.7,523.1 L1122.7,524.3 L1123.7,525.2 L1124.7,524.2 L1125.7,523.3 L1126.7,522.1 L1127.7,524.2 L1128.7,524.4 L1129.7,523.3 L1130.7,522.4 L1131.7,524.4 L1132.7,527.6 L1133.7,522.7 L1134.7,523.7 L1135.7,523.6 L1136.7,518.5 L1137.7,523.0 L1138.7,521.4 L1139.7,524.9 L1140.7,522.0 L1141.7,521.0 L1142.7,521.8 L1143.7,522.4 L1144.7,521.0 L1145.7,521.8 L1146.7,519.5 L1147.7,521.3 L1148.7,522.9 L1149.7,524.9 L1150.7,522.6 L1151.7,521.8 L1152.7,523.3 L1153.7,522.9 L1154.7,523.9 L1155.7,522.9 L1156.7,520.8 L1157.7,521.3 L1158.7,521.1 L1159.7,521.3 L1160.7,521.0 L1161.7,519.3 L1162.7,517.0 L1163.7,519.4 L1164.7,517.0 L1165.7,520.5 L1166.7,520.3 L1167.7,517.4 L1168.7,521.4 L1169.7,521.6 L1170.7,520.3 L1171.7,519.9 L1172.7,520.2 L1173.7,521.1 L1174.7,545.4 L1175.7,564.6 L1176.7,584.1 L1177.7,603.6 L1178.7,618.4 L1179.7,634.8 L1180.7,649.1 L1181.7,662.1 L1182.7,674.1 L1183.7,680.7 L1184.7,688.1 L1185.7,695.3 L1186.7,696.3 L1187.7,697.0 L1188.7,692.0 L1189.7,691.7 L1190.7,689.3 L1191.7,687.0 L1192.7,682.3 L1193.7,681.0 L1194.7,675.4 L1195.7,671.5 L1196.7,667.4 L1197.7,664.6 L1198.7,658.7 L1199.7,657.5 L1200.7,652.6 L1201.7,648.4 L1202.7,644.6 L1203.7,641.9 L1204.7,639.3 L1205.7,635.9 L1206.7,631.7 L1207.7,629.4 L1208.7,625.0 L1209.7,624.0 L1210.7,618.9 L1211.7,612.7 L1212.7,615.7 L1213.7,611.0 L1214.7,606.3 L1215.7,605.5 L1216.7,601.9 L1217.7,604.7 L1218.7,599.7 L1219.7,594.0 L1220.7,595.5 L1221.7,591.8 L1222.7,593.7 L1223.7,586.7 L1224.7,582.8 L1225.7,584.9 L1226.7,582.5 L1227.7,580.6 L1228.7,576.0 L1229.7,578.8 L1230.7,579.3 L1231.7,571.7 L1232.7,575.5 L1233.7,571.1 L1234.7,574.7 L1235.7,570.1 L1236.7,567.7 L1237.7,568.6 L1238.7,566.4 L1239.7,563.3 L1240.7,564.4 L1241.7,561.2 L1242.7,557.9 L1243.7,563.3 L1244.7,558.2 L1245.7,556.8 L1246.7,557.4 L1247.7,553.2 L1248.7,552.6 L1249.7,553.2 L1250.7,552.3 L1251.7,552.4 L1252.7,553.4 L1253.7,549.9 L1254.7,550.7 L1255.7,550.1 L1256.7,546.5 L1257.7,548.0 L1258.7,545.3 L1259.7,548.1 L1260.7,546.4 L1261.7,545.0 L1262.7,542.0 L1263.7,543.9 L1264.7,541.8 L1265.7,543.7 L1266.7,541.7 L1267.7,540.0 L1268.7,542.4 L1269.7,541.5 L1270.7,538.8 L1271.7,541.2 L1272.7,538.3 L1273.7,537.8 L1274.7,538.0 L1275.7,536.1 L1276.7,536.2 L1277.7,536.2 L1278.7,538.7 L1279.7,538.2 L1280.7,534.8 L1281.7,537.6 L1282.7,534.4 L1283.7,534.8 L1284.7,535.2 L1285.7,533.9 L1286.7,537.1 L1287.7,533.1 L1288.7,530.3 L1289.7,534.3 L1290.7,531.0 L1291.7,530.9 L1292.7,526.0 L1293.7,532.5 L1294.7,531.9 L1295.7,531.6 L1296.7,531.6 L1297.7,532.5 L1298.7,529.3 L1299.7,530.7 L1300.7,527.6 L1301.7,528.0 L1302.7,530.2 L1303.7,528.8 L1304.7,525.7" fill="none" stroke="#000" stroke-width="4.3" stroke-linejoin="round" stroke-linecap="round" />
<line x1="1010.90" y1="452.70" x2="1010.90" y2="669.80" stroke="#000" stroke-width="3.6" stroke-linecap="butt"/>
<line x1="1171.60" y1="452.70" x2="1171.60" y2="678.30" stroke="#000" stroke-width="3.6" stroke-linecap="butt"/>
<path d="M983.0,500.5 L983.4,507.5 L985.5,509.5" fill="none" stroke="#000" stroke-width="4.0" stroke-linejoin="round" stroke-linecap="round" />
<line x1="1007.20" y1="494.00" x2="1007.20" y2="539.00" stroke="#000" stroke-width="3.0" stroke-linecap="butt"/>
<line x1="1168.80" y1="495.00" x2="1168.80" y2="539.00" stroke="#000" stroke-width="3.0" stroke-linecap="butt"/>
<path d="M650.6,194.7 L650.6,253.9 L714.6,253.9" fill="none" stroke="#000" stroke-width="2.6"/>
<g transform="translate(661.30,229.90)"><g transform="scale(1,1.04)"><text x="-0.97" y="0" font-family="Liberation Sans" font-weight="700" font-size="28.00" fill="#000" xml:space="preserve">200 pA</text></g></g>
<g transform="translate(644.00,289.80)"><g transform="scale(1,1.04)"><text x="-0.97" y="0" font-family="Liberation Sans" font-weight="700" font-size="28.00" fill="#000" xml:space="preserve">20 ms</text></g></g>
<path d="M649.3,599.9 L649.3,659.9 L713.2,659.9" fill="none" stroke="#000" stroke-width="2.6"/>
<g transform="translate(660.00,635.30)"><g transform="scale(1,1.04)"><text x="-0.97" y="0" font-family="Liberation Sans" font-weight="700" font-size="28.00" fill="#000" xml:space="preserve">200 pA</text></g></g>
<g transform="translate(642.60,695.30)"><g transform="scale(1,1.04)"><text x="-0.97" y="0" font-family="Liberation Sans" font-weight="700" font-size="28.00" fill="#000" xml:space="preserve">20 ms</text></g></g>
<g transform="translate(328.90,42.50)"><g transform="scale(1,1.04)"><text x="-2.86" y="0" font-family="Liberation Sans" font-weight="700" font-size="42.70" fill="#000" xml:space="preserve">DHPG(-)</text></g></g>
<g transform="translate(704.50,42.50)"><g transform="scale(1,1.04)"><text x="-2.86" y="0" font-family="Liberation Sans" font-weight="700" font-size="42.80" fill="#000" xml:space="preserve">DHPG(+)</text></g></g>
<g transform="translate(1072.40,42.50)"><g transform="scale(1,1.04)"><text x="-1.23" y="0" font-family="Liberation Sans" font-weight="700" font-size="42.70" fill="#000" xml:space="preserve">Scaled</text></g></g>
<g transform="translate(328.90,435.40)"><g transform="scale(1,1.04)"><text x="-2.86" y="0" font-family="Liberation Sans" font-weight="700" font-size="42.70" fill="#000" xml:space="preserve">DHPG(-)</text></g></g>
<g transform="translate(704.50,435.40)"><g transform="scale(1,1.04)"><text x="-2.86" y="0" font-family="Liberation Sans" font-weight="700" font-size="42.80" fill="#000" xml:space="preserve">DHPG(+)</text></g></g>
<g transform="translate(1072.40,435.40)"><g transform="scale(1,1.04)"><text x="-1.23" y="0" font-family="Liberation Sans" font-weight="700" font-size="42.70" fill="#000" xml:space="preserve">Scaled</text></g></g>
<g transform="translate(89.70,141.00)"><g transform="scale(1,1.04)"><text x="-0.05" y="0" font-family="Liberation Sans" font-weight="700" font-size="47.30" fill="#000" xml:space="preserve">WT</text></g></g>
<g transform="translate(95.80,528.60)"><g transform="scale(1,1.04)"><text x="-3.12" y="0" font-family="Liberation Sans" font-weight="700" font-size="46.70" fill="#000" xml:space="preserve">KO</text></g></g>
<g transform="translate(-1.00,45.40)"><g transform="scale(1,1.0080302389933096)"><text x="-1.65" y="0" font-family="Liberation Sans" font-weight="700" font-size="66.33" fill="#000" xml:space="preserve">A</text></g></g>
<g transform="translate(1191.10,172.00)"><g transform="scale(1,1.0)"><text x="-1.67" y="0" font-family="Liberation Sans" font-weight="700" font-size="33.47" fill="#000" xml:space="preserve">(-)</text></g></g>
<g transform="translate(1201.20,322.80)"><g transform="scale(1,1.0)"><text x="-1.59" y="0" font-family="Liberation Sans" font-weight="700" font-size="31.90" fill="#000" xml:space="preserve">(+)</text></g></g>
<g transform="translate(1185.70,564.60)"><g transform="scale(1,1.0)"><text x="-1.64" y="0" font-family="Liberation Sans" font-weight="700" font-size="32.91" fill="#000" xml:space="preserve">(-)</text></g></g>
<g transform="translate(1203.50,684.80)"><g transform="scale(1,1.0)"><text x="-1.61" y="0" font-family="Liberation Sans" font-weight="700" font-size="32.34" fill="#000" xml:space="preserve">(+)</text></g></g>
<g transform="translate(53.50,812.70)"><g transform="scale(1,1.0162770357944262)"><text x="-4.34" y="0" font-family="Liberation Sans" font-weight="700" font-size="64.93" fill="#000" xml:space="preserve">B</text></g></g>
<g transform="translate(309.60,805.90)"><g transform="scale(1,1.04)"><text x="-1.18" y="0" font-family="Liberation Sans" font-weight="700" font-size="47.52" fill="#000" xml:space="preserve">Amplitude</text></g></g>
<line x1="224.30" y1="791.20" x2="224.30" y2="1195.90" stroke="#000" stroke-width="3.5" stroke-linecap="butt"/>
<line x1="222.60" y1="1194.20" x2="626.80" y2="1194.20" stroke="#000" stroke-width="3.4" stroke-linecap="butt"/>
<line x1="209.50" y1="871.80" x2="224.30" y2="871.80" stroke="#000" stroke-width="1.8" stroke-linecap="butt"/>
<line x1="209.50" y1="1033.00" x2="224.30" y2="1033.00" stroke="#000" stroke-width="1.8" stroke-linecap="butt"/>
<line x1="209.50" y1="1194.20" x2="224.30" y2="1194.20" stroke="#000" stroke-width="1.8" stroke-linecap="butt"/>
<g transform="translate(184.90,888.40)"><g transform="scale(1,1.04)"><path d="M511,0 L808,0 L808,1409 L577,1409 Q440,1245 149,1062 L149,800 Q340,905 511,1000 Z" fill="#000" transform="translate(-3.17,0) scale(0.02124,-0.02124)"/></g></g>
<g transform="translate(174.80,1196.30)"><g transform="scale(1,1.04)"><text x="-1.72" y="0" font-family="Liberation Sans" font-weight="700" font-size="43.53" fill="#000" xml:space="preserve">0</text></g></g>
<g transform="translate(151.70,1132.90) rotate(-90)"><g transform="scale(1,1.04)"><text x="-2.85" y="0" font-family="Liberation Sans" font-weight="700" font-size="42.58" fill="#000" xml:space="preserve">EPSC (norm)</text></g></g>
<rect x="249.30" y="871.80" width="50.30" height="322.40" fill="#fff" stroke="#000" stroke-width="3.4"/>
<rect x="348.00" y="1108.10" width="53.70" height="86.10" fill="#000"/>
<rect x="450.60" y="872.10" width="50.20" height="322.10" fill="#fff" stroke="#000" stroke-width="3.4"/>
<rect x="549.30" y="1110.70" width="53.80" height="83.50" fill="#000"/>
<line x1="274.30" y1="864.50" x2="274.30" y2="879.30" stroke="#000" stroke-width="3.2" stroke-linecap="butt"/>
<line x1="267.50" y1="864.50" x2="281.10" y2="864.50" stroke="#000" stroke-width="3.2" stroke-linecap="butt"/>
<line x1="267.50" y1="879.30" x2="281.10" y2="879.30" stroke="#000" stroke-width="3.2" stroke-linecap="butt"/>
<line x1="475.70" y1="864.30" x2="475.70" y2="879.30" stroke="#000" stroke-width="3.2" stroke-linecap="butt"/>
<line x1="468.90" y1="864.30" x2="482.50" y2="864.30" stroke="#000" stroke-width="3.2" stroke-linecap="butt"/>
<line x1="468.90" y1="879.30" x2="482.50" y2="879.30" stroke="#000" stroke-width="3.2" stroke-linecap="butt"/>
<line x1="375.10" y1="1104.30" x2="375.10" y2="1110.00" stroke="#000" stroke-width="3.2" stroke-linecap="butt"/>
<line x1="368.30" y1="1104.30" x2="381.90" y2="1104.30" stroke="#000" stroke-width="3.2" stroke-linecap="butt"/>
<line x1="576.20" y1="1107.60" x2="576.20" y2="1112.00" stroke="#000" stroke-width="3.2" stroke-linecap="butt"/>
<line x1="569.30" y1="1107.60" x2="583.10" y2="1107.60" stroke="#000" stroke-width="3.0" stroke-linecap="butt"/>
<g transform="translate(101.80,1258.50)"><g transform="scale(1,1.04)"><text x="-2.86" y="0" font-family="Liberation Sans" font-weight="700" font-size="42.82" fill="#000" xml:space="preserve">DHPG</text></g></g>
<g transform="translate(269.64,1258.50)"><g transform="scale(1,1.04)"><text x="-1.68" y="0" font-family="Liberation Sans" font-weight="700" font-size="43.00" fill="#000" xml:space="preserve">-</text></g></g>
<g transform="translate(363.12,1258.50)"><g transform="scale(1,1.04)"><text x="-1.81" y="0" font-family="Liberation Sans" font-weight="700" font-size="43.00" fill="#000" xml:space="preserve">+</text></g></g>
<g transform="translate(470.94,1258.50)"><g transform="scale(1,1.04)"><text x="-1.68" y="0" font-family="Liberation Sans" font-weight="700" font-size="43.00" fill="#000" xml:space="preserve">-</text></g></g>
<g transform="translate(566.62,1258.50)"><g transform="scale(1,1.04)"><text x="-1.81" y="0" font-family="Liberation Sans" font-weight="700" font-size="43.00" fill="#000" xml:space="preserve">+</text></g></g>
<g transform="translate(293.30,1320.60)"><g transform="scale(1,1.04)"><text x="-0.04" y="0" font-family="Liberation Sans" font-weight="700" font-size="42.06" fill="#000" xml:space="preserve">WT</text></g></g>
<g transform="translate(498.10,1320.60)"><g transform="scale(1,1.04)"><text x="-2.86" y="0" font-family="Liberation Sans" font-weight="700" font-size="42.77" fill="#000" xml:space="preserve">KO</text></g></g>
<g transform="translate(730.00,812.90)"><g transform="scale(1,1.0867632152427789)"><text x="-2.49" y="0" font-family="Liberation Sans" font-weight="700" font-size="60.72" fill="#000" xml:space="preserve">C</text></g></g>
<g transform="translate(1055.50,803.90)"><g transform="scale(1,1.04)"><text x="-3.13" y="0" font-family="Liberation Sans" font-weight="700" font-size="46.81" fill="#000" xml:space="preserve">PPF</text></g></g>
<line x1="895.90" y1="789.50" x2="895.90" y2="1195.50" stroke="#000" stroke-width="3.5" stroke-linecap="butt"/>
<line x1="894.20" y1="1193.80" x2="1298.60" y2="1193.80" stroke="#000" stroke-width="3.4" stroke-linecap="butt"/>
<line x1="881.50" y1="791.20" x2="895.90" y2="791.20" stroke="#000" stroke-width="1.8" stroke-linecap="butt"/>
<line x1="881.50" y1="891.80" x2="895.90" y2="891.80" stroke="#000" stroke-width="1.8" stroke-linecap="butt"/>
<line x1="881.50" y1="992.40" x2="895.90" y2="992.40" stroke="#000" stroke-width="1.8" stroke-linecap="butt"/>
<line x1="881.50" y1="1093.00" x2="895.90" y2="1093.00" stroke="#000" stroke-width="1.8" stroke-linecap="butt"/>
<line x1="881.50" y1="1193.90" x2="895.90" y2="1193.90" stroke="#000" stroke-width="1.8" stroke-linecap="butt"/>
<g transform="translate(851.80,808.00)"><g transform="scale(1,1.04)"><text x="-0.95" y="0" font-family="Liberation Sans" font-weight="700" font-size="41.24" fill="#000" xml:space="preserve">3</text></g></g>
<g transform="translate(851.80,1008.30)"><g transform="scale(1,1.04)"><text x="-1.48" y="0" font-family="Liberation Sans" font-weight="700" font-size="42.58" fill="#000" xml:space="preserve">2</text></g></g>
<g transform="translate(853.20,1209.40)"><g transform="scale(1,1.04)"><path d="M511,0 L808,0 L808,1409 L577,1409 Q440,1245 149,1062 L149,800 Q340,905 511,1000 Z" fill="#000" transform="translate(-3.21,0) scale(0.02155,-0.02155)"/></g></g>
<g transform="translate(822.50,1142.10) rotate(-90)"><g transform="scale(1,1.04)"><text x="-1.47" y="0" font-family="Liberation Sans" font-weight="700" font-size="42.47" fill="#000" xml:space="preserve">2nd / </text><path d="M511,0 L808,0 L808,1409 L577,1409 Q440,1245 149,1062 L149,800 Q340,905 511,1000 Z" fill="#000" transform="translate(109.43,0) scale(0.02074,-0.02074)"/><text x="133.05" y="0" font-family="Liberation Sans" font-weight="700" font-size="42.47" fill="#000" xml:space="preserve">st EPSC</text></g></g>
<rect x="920.90" y="1063.90" width="50.20" height="129.90" fill="#fff" stroke="#000" stroke-width="3.4"/>
<rect x="1020.10" y="934.00" width="53.80" height="259.80" fill="#000"/>
<rect x="1122.40" y="1057.30" width="50.10" height="136.50" fill="#fff" stroke="#000" stroke-width="3.4"/>
<rect x="1221.50" y="940.00" width="53.30" height="253.80" fill="#000"/>
<line x1="946.20" y1="1053.80" x2="946.20" y2="1074.70" stroke="#000" stroke-width="3.0" stroke-linecap="butt"/>
<line x1="939.45" y1="1053.80" x2="952.95" y2="1053.80" stroke="#000" stroke-width="3.0" stroke-linecap="butt"/>
<line x1="939.45" y1="1074.70" x2="952.95" y2="1074.70" stroke="#000" stroke-width="3.0" stroke-linecap="butt"/>
<line x1="1147.60" y1="1047.90" x2="1147.60" y2="1066.10" stroke="#000" stroke-width="3.0" stroke-linecap="butt"/>
<line x1="1140.65" y1="1047.90" x2="1154.55" y2="1047.90" stroke="#000" stroke-width="3.0" stroke-linecap="butt"/>
<line x1="1140.65" y1="1066.10" x2="1154.55" y2="1066.10" stroke="#000" stroke-width="3.0" stroke-linecap="butt"/>
<line x1="1046.80" y1="912.90" x2="1046.80" y2="936.00" stroke="#000" stroke-width="3.0" stroke-linecap="butt"/>
<line x1="1040.20" y1="912.90" x2="1053.90" y2="912.90" stroke="#000" stroke-width="3.2" stroke-linecap="butt"/>
<line x1="1248.30" y1="911.90" x2="1248.30" y2="942.00" stroke="#000" stroke-width="3.0" stroke-linecap="butt"/>
<line x1="1241.50" y1="911.90" x2="1254.90" y2="911.90" stroke="#000" stroke-width="3.4" stroke-linecap="butt"/>
<g transform="translate(774.40,1258.80)"><g transform="scale(1,1.04)"><text x="-2.87" y="0" font-family="Liberation Sans" font-weight="700" font-size="42.89" fill="#000" xml:space="preserve">DHPG</text></g></g>
<g transform="translate(942.74,1258.80)"><g transform="scale(1,1.04)"><text x="-1.68" y="0" font-family="Liberation Sans" font-weight="700" font-size="43.00" fill="#000" xml:space="preserve">-</text></g></g>
<g transform="translate(1036.02,1258.80)"><g transform="scale(1,1.04)"><text x="-1.81" y="0" font-family="Liberation Sans" font-weight="700" font-size="43.00" fill="#000" xml:space="preserve">+</text></g></g>
<g transform="translate(1143.64,1258.80)"><g transform="scale(1,1.04)"><text x="-1.68" y="0" font-family="Liberation Sans" font-weight="700" font-size="43.00" fill="#000" xml:space="preserve">-</text></g></g>
<g transform="translate(1239.42,1258.80)"><g transform="scale(1,1.04)"><text x="-1.81" y="0" font-family="Liberation Sans" font-weight="700" font-size="43.00" fill="#000" xml:space="preserve">+</text></g></g>
<g transform="translate(959.00,1319.10)"><g transform="scale(1,1.04)"><text x="-0.04" y="0" font-family="Liberation Sans" font-weight="700" font-size="41.48" fill="#000" xml:space="preserve">WT</text></g></g>
<g transform="translate(1161.70,1319.10)"><g transform="scale(1,1.04)"><text x="-2.94" y="0" font-family="Liberation Sans" font-weight="700" font-size="43.92" fill="#000" xml:space="preserve">KO</text></g></g>
<line x1="246.10" y1="1373.30" x2="246.10" y2="1707.90" stroke="#000" stroke-width="3.4" stroke-linecap="butt"/>
<line x1="244.40" y1="1706.20" x2="776.90" y2="1706.20" stroke="#000" stroke-width="3.4" stroke-linecap="butt"/>
<line x1="234.00" y1="1427.70" x2="246.10" y2="1427.70" stroke="#000" stroke-width="1.9" stroke-linecap="butt"/>
<line x1="234.00" y1="1539.00" x2="246.10" y2="1539.00" stroke="#000" stroke-width="1.9" stroke-linecap="butt"/>
<line x1="234.00" y1="1650.30" x2="246.10" y2="1650.30" stroke="#000" stroke-width="1.9" stroke-linecap="butt"/>
<line x1="282.20" y1="1706.20" x2="282.20" y2="1718.50" stroke="#000" stroke-width="1.9" stroke-linecap="butt"/>
<line x1="422.60" y1="1706.20" x2="422.60" y2="1718.50" stroke="#000" stroke-width="1.9" stroke-linecap="butt"/>
<line x1="563.00" y1="1706.20" x2="563.00" y2="1718.50" stroke="#000" stroke-width="1.9" stroke-linecap="butt"/>
<line x1="703.40" y1="1706.20" x2="703.40" y2="1718.50" stroke="#000" stroke-width="1.9" stroke-linecap="butt"/>
<rect x="282.20" y="1688.10" width="31.60" height="6.30" fill="#888888"/>
<path d="M248.0,1645.0 L252.6,1652.4 L257.2,1659.3 L261.8,1657.6 L266.4,1657.6 L271.0,1657.5 L275.6,1652.7 L280.2,1657.3 L284.8,1658.3 L289.4,1670.0 L294.0,1661.8 L298.6,1658.3 L303.2,1658.1 L307.8,1656.6 L312.4,1655.5 L317.0,1657.9 L321.6,1660.8 L326.2,1659.5 L330.8,1662.4 L335.4,1659.4 L340.0,1660.3 L344.6,1664.8 L349.2,1661.8 L353.8,1658.0 L358.4,1658.9 L363.0,1662.2 L367.6,1666.0 L372.2,1659.5 L376.8,1659.1 L381.4,1662.2 L386.0,1657.0 L390.6,1658.5 L395.2,1662.5 L399.8,1661.9 L404.4,1660.4 L409.0,1660.3 L413.6,1651.1 L418.2,1660.9 L422.8,1656.0 L427.4,1653.7 L432.0,1659.9 L436.6,1661.7 L441.2,1657.9 L445.8,1655.8 L450.4,1659.0 L455.0,1660.1 L459.6,1664.5 L464.2,1662.8 L468.8,1661.1 L473.4,1663.1 L478.0,1658.9 L482.6,1656.7 L487.2,1661.2 L491.8,1661.6 L496.4,1658.7 L501.0,1656.9 L505.6,1658.6 L510.2,1651.8 L514.8,1660.7 L519.4,1660.6 L524.0,1654.4 L528.6,1658.4 L533.2,1656.8 L537.8,1660.4 L542.4,1652.8 L547.0,1655.8 L551.6,1661.9 L556.2,1662.5 L560.8,1652.8 L565.4,1656.9 L570.0,1660.0 L574.6,1658.5 L579.2,1663.8 L583.8,1656.6 L588.4,1659.5 L593.0,1657.0 L597.6,1663.5 L602.2,1660.0 L606.8,1657.4 L611.4,1654.6 L616.0,1664.5 L620.6,1663.2 L625.2,1662.9 L629.8,1663.8 L634.4,1660.9 L639.0,1657.2 L643.6,1656.1 L648.2,1657.2 L652.8,1662.8 L657.4,1655.1 L662.0,1656.6 L666.6,1658.3 L671.2,1660.4 L675.8,1660.9 L680.4,1654.8 L685.0,1653.2 L689.6,1659.2 L694.2,1663.9 L698.8,1662.7 L703.4,1660.4 L708.0,1658.7 L712.6,1660.2 L717.2,1659.3 L721.8,1661.6 L726.4,1657.4 L731.0,1659.5 L735.6,1659.5 L740.2,1661.3 L744.8,1661.8 L749.4,1668.7 L754.0,1666.5 L758.6,1664.1 L763.2,1653.4 L767.8,1658.2" fill="none" stroke="#7f7f7f" stroke-width="4.0" stroke-linejoin="round" stroke-linecap="round" />
<path d="M248.0,1646.0 L252.6,1660.1 L257.2,1659.4 L261.8,1653.8 L266.4,1653.5 L271.0,1653.4 L275.6,1656.6 L280.2,1655.5 L284.8,1656.5 L289.4,1650.2 L294.0,1659.1 L298.6,1655.8 L303.2,1657.1 L307.8,1654.7 L312.4,1653.9 L317.0,1656.7 L321.6,1657.8 L326.2,1654.7 L330.8,1654.8 L335.4,1656.7 L340.0,1651.7 L344.6,1649.8 L349.2,1655.2 L353.8,1652.0 L358.4,1648.0 L363.0,1651.1 L367.6,1652.4 L372.2,1650.1 L376.8,1649.5 L381.4,1654.8 L386.0,1657.8 L390.6,1654.3 L395.2,1652.6 L399.8,1656.2 L404.4,1657.4 L409.0,1654.7 L413.6,1657.2 L418.2,1658.6 L422.8,1654.4 L427.4,1652.4 L432.0,1655.8 L436.6,1656.6 L441.2,1658.1 L445.8,1651.0 L450.4,1651.7 L455.0,1651.0 L459.6,1649.0 L464.2,1654.8 L468.8,1656.4 L473.4,1653.6 L478.0,1659.6 L482.6,1658.7 L487.2,1657.7 L491.8,1657.1 L496.4,1657.6 L501.0,1651.5 L505.6,1656.6 L510.2,1656.4 L514.8,1649.7 L519.4,1655.1 L524.0,1654.8 L528.6,1657.2 L533.2,1654.0 L537.8,1654.9 L542.4,1655.7 L547.0,1652.6 L551.6,1656.4 L556.2,1655.2 L560.8,1656.3 L565.4,1654.1 L570.0,1658.6 L574.6,1657.4 L579.2,1655.1 L583.8,1657.6 L588.4,1660.4 L593.0,1660.7 L597.6,1651.2 L602.2,1657.3 L606.8,1656.9 L611.4,1654.4 L616.0,1652.3 L620.6,1657.9 L625.2,1651.8 L629.8,1656.9 L634.4,1658.7 L639.0,1650.3 L643.6,1652.5 L648.2,1650.7 L652.8,1655.9 L657.4,1661.1 L662.0,1661.5 L666.6,1649.9 L671.2,1652.6 L675.8,1657.8 L680.4,1660.7 L685.0,1656.8 L689.6,1652.9 L694.2,1655.6 L698.8,1655.0 L703.4,1653.9 L708.0,1652.7 L712.6,1656.0 L717.2,1656.2 L721.8,1654.7 L726.4,1653.6 L731.0,1650.4 L735.6,1653.4 L740.2,1658.6 L744.8,1654.3 L749.4,1650.9 L754.0,1658.9 L758.6,1658.5 L763.2,1662.2 L767.8,1654.0" fill="none" stroke="#a9a9a9" stroke-width="4.0" stroke-linejoin="round" stroke-linecap="round" />
<path d="M248.0,1642.1 L252.0,1650.0 L257.8,1656.3 L262.0,1652.5 L266.6,1650.9 L272.9,1652.7 L276.5,1651.0 L280.9,1649.2 L285.3,1640.3 L288.0,1624.3 L290.6,1602.0 L293.3,1579.9 L296.0,1553.0 L298.6,1526.6 L301.3,1498.0 L304.0,1471.5 L307.0,1455.0 L310.2,1443.1 L313.7,1442.2 L316.0,1447.0 L318.2,1455.5 L320.4,1470.0 L322.6,1487.5 L327.0,1507.0 L330.5,1514.5 L334.2,1521.3 L341.3,1529.3 L346.6,1537.2 L350.1,1544.4 L356.4,1552.4 L362.6,1567.5 L366.0,1570.0 L370.6,1571.0 L375.0,1573.2 L378.6,1576.3 L381.2,1580.8 L387.5,1583.4 L389.2,1579.0 L396.3,1587.0 L400.5,1588.5 L405.2,1588.8 L409.0,1591.0 L411.4,1589.7 L415.0,1595.0 L420.0,1598.5 L426.5,1603.0 L431.9,1604.8 L437.0,1604.8 L444.3,1607.4 L451.4,1609.2 L455.0,1611.5 L460.3,1614.5 L467.4,1608.3 L472.0,1612.5 L478.1,1619.9 L484.9,1616.2 L491.8,1622.0 L496.0,1623.5 L501.0,1626.5 L507.9,1621.5 L515.9,1627.7 L521.0,1630.0 L527.4,1632.3 L533.0,1628.0 L538.8,1625.4 L543.4,1628.8 L548.0,1624.0 L552.6,1620.8 L557.0,1628.0 L561.8,1635.7 L568.7,1627.0 L574.4,1627.7 L579.0,1631.0 L584.7,1635.7 L588.2,1628.8 L595.1,1630.0 L599.6,1636.9 L607.7,1631.6 L614.0,1635.0 L621.4,1639.2 L630.6,1633.4 L636.4,1640.3 L645.5,1633.0 L653.6,1639.2 L659.0,1636.0 L665.0,1634.6 L671.9,1633.4 L676.0,1637.0 L681.1,1641.5 L689.0,1640.6 L697.2,1641.5 L704.0,1637.0 L710.9,1632.3 L717.8,1639.2 L727.0,1640.3 L731.0,1643.0 L736.2,1646.0 L740.0,1643.0 L745.4,1640.3 L752.2,1642.1 L759.1,1635.3 L764.0,1638.5 L769.5,1643.8" fill="none" stroke="#000" stroke-width="4.3" stroke-linejoin="round" stroke-linecap="round" />
<g transform="translate(211.50,1440.20)"><g transform="scale(1,1.04)"><path d="M511,0 L808,0 L808,1409 L577,1409 Q440,1245 149,1062 L149,800 Q340,905 511,1000 Z" fill="#000" transform="translate(-2.51,0) scale(0.01685,-0.01685)"/></g></g>
<g transform="translate(210.40,1665.00)"><g transform="scale(1,1.04)"><text x="-1.36" y="0" font-family="Liberation Sans" font-weight="700" font-size="34.50" fill="#000" xml:space="preserve">0</text></g></g>
<g transform="translate(274.12,1751.10)"><g transform="scale(1,1.04)"><text x="-1.34" y="0" font-family="Liberation Sans" font-weight="700" font-size="34.00" fill="#000" xml:space="preserve">0</text></g></g>
<g transform="translate(414.14,1751.10)"><g transform="scale(1,1.04)"><text x="-1.05" y="0" font-family="Liberation Sans" font-weight="700" font-size="34.00" fill="#000" xml:space="preserve">5</text></g></g>
<g transform="translate(546.02,1751.10)"><g transform="scale(1,1.04)"><path d="M511,0 L808,0 L808,1409 L577,1409 Q440,1245 149,1062 L149,800 Q340,905 511,1000 Z" fill="#000" transform="translate(-2.47,0) scale(0.01660,-0.01660)"/><text x="16.44" y="0" font-family="Liberation Sans" font-weight="700" font-size="34.00" fill="#000" xml:space="preserve">0</text></g></g>
<g transform="translate(686.20,1751.10)"><g transform="scale(1,1.04)"><path d="M511,0 L808,0 L808,1409 L577,1409 Q440,1245 149,1062 L149,800 Q340,905 511,1000 Z" fill="#000" transform="translate(-2.47,0) scale(0.01660,-0.01660)"/><text x="16.44" y="0" font-family="Liberation Sans" font-weight="700" font-size="34.00" fill="#000" xml:space="preserve">5</text></g></g>
<g transform="translate(429.40,1785.30)"><g transform="scale(1,1.04)"><text x="-0.37" y="0" font-family="Liberation Sans" font-weight="700" font-size="33.10" fill="#000" xml:space="preserve">Time (s)</text></g></g>
<g transform="translate(139.20,1422.70)"><g transform="scale(1,1.0488566082604396)"><text x="-4.20" y="0" font-family="Liberation Sans" font-weight="700" font-size="62.78" fill="#000" xml:space="preserve">D</text></g></g>
<line x1="615.00" y1="1418.90" x2="649.70" y2="1418.90" stroke="#000" stroke-width="4.7" stroke-linecap="round"/>
<line x1="615.00" y1="1452.60" x2="649.70" y2="1452.60" stroke="#7f7f7f" stroke-width="4.4" stroke-linecap="round"/>
<line x1="615.00" y1="1486.30" x2="649.70" y2="1486.30" stroke="#a9a9a9" stroke-width="4.4" stroke-linecap="round"/>
<g transform="translate(663.30,1428.60)"><g transform="scale(1,1.04)"><text x="-0.03" y="0" font-family="Liberation Sans" font-weight="700" font-size="25.78" fill="#000" xml:space="preserve">WT Cont</text></g></g>
<g transform="translate(663.30,1462.20)"><g transform="scale(1,1.04)"><text x="-0.02" y="0" font-family="Liberation Sans" font-weight="700" font-size="25.40" fill="#000" xml:space="preserve">WT 0Ca</text></g></g>
<g transform="translate(663.30,1495.30)"><g transform="scale(1,1.04)"><text x="-0.02" y="0" font-family="Liberation Sans" font-weight="700" font-size="25.40" fill="#000" xml:space="preserve">WT Aga</text></g></g>
<g transform="translate(200.10,1582.00) rotate(-90) scale(0.9809,1.0)"><text x="-1.31" y="0" font-family="Liberation Serif" font-weight="400" font-size="34.50">Δ</text></g>
<g transform="translate(200.10,1559.90) rotate(-90) scale(0.8970,1.04)"><text x="-2.31" y="0" font-family="Liberation Sans" font-weight="700" font-size="34.50">F</text></g>
<g transform="translate(200.10,1542.30) rotate(-90) scale(1.0212,1.04)"><text x="-0.34" y="0" font-family="Liberation Sans" font-weight="700" font-size="34.50">/</text></g>
<g transform="translate(200.10,1530.20) rotate(-90) scale(0.9084,1.04)"><text x="-2.31" y="0" font-family="Liberation Sans" font-weight="700" font-size="34.50">F</text></g>
<g transform="translate(203.10,1511.90) rotate(-90) scale(1.0057,1.04)"><text x="-1.02" y="0" font-family="Liberation Sans" font-weight="400" font-size="26.00">0</text></g>
<g transform="translate(866.10,1423.10)"><g transform="scale(1,1.066386416989678)"><text x="-4.19" y="0" font-family="Liberation Sans" font-weight="700" font-size="62.56" fill="#000" xml:space="preserve">E</text></g></g>
<line x1="976.50" y1="1388.00" x2="976.50" y2="1707.00" stroke="#000" stroke-width="3.4" stroke-linecap="butt"/>
<line x1="974.80" y1="1705.50" x2="1213.10" y2="1705.50" stroke="#000" stroke-width="3.3" stroke-linecap="butt"/>
<line x1="965.10" y1="1390.00" x2="976.50" y2="1390.00" stroke="#000" stroke-width="1.8" stroke-linecap="butt"/>
<line x1="965.10" y1="1547.75" x2="976.50" y2="1547.75" stroke="#000" stroke-width="1.8" stroke-linecap="butt"/>
<line x1="965.10" y1="1705.50" x2="976.50" y2="1705.50" stroke="#000" stroke-width="1.8" stroke-linecap="butt"/>
<g transform="translate(945.10,1401.90)"><g transform="scale(1,1.04)"><path d="M511,0 L808,0 L808,1409 L577,1409 Q440,1245 149,1062 L149,800 Q340,905 511,1000 Z" fill="#000" transform="translate(-2.58,0) scale(0.01730,-0.01730)"/></g></g>
<g transform="translate(944.20,1719.20)"><g transform="scale(1,1.04)"><text x="-1.35" y="0" font-family="Liberation Sans" font-weight="700" font-size="34.06" fill="#000" xml:space="preserve">0</text></g></g>
<rect x="995.95" y="1404.75" width="39.50" height="300.75" fill="#fff" stroke="#000" stroke-width="3.3"/>
<rect x="1073.00" y="1693.00" width="43.00" height="12.50" fill="#000"/>
<rect x="1153.80" y="1692.90" width="39.90" height="12.60" fill="#fff" stroke="#000" stroke-width="2.6"/>
<line x1="1015.90" y1="1392.30" x2="1015.90" y2="1417.70" stroke="#000" stroke-width="2.6" stroke-linecap="butt"/>
<line x1="1012.65" y1="1392.30" x2="1019.15" y2="1392.30" stroke="#000" stroke-width="3.4" stroke-linecap="butt"/>
<line x1="1012.65" y1="1417.70" x2="1019.15" y2="1417.70" stroke="#000" stroke-width="3.4" stroke-linecap="butt"/>
<rect x="1092.10" y="1689.80" width="5.20" height="4.00" fill="#000"/>
<rect x="1171.40" y="1688.80" width="4.70" height="8.80" fill="#000"/>
<rect x="1155.40" y="1700.50" width="3.00" height="3.00" fill="#000"/>
<rect x="1159.50" y="1697.20" width="3.00" height="3.00" fill="#000"/>
<rect x="1184.40" y="1700.50" width="3.00" height="3.00" fill="#000"/>
<rect x="1188.00" y="1697.20" width="3.00" height="3.00" fill="#000"/>
<g transform="translate(976.20,1740.00)"><g transform="scale(1,1.04)"><text x="-1.38" y="0" font-family="Liberation Sans" font-weight="700" font-size="33.64" fill="#000" xml:space="preserve">Cont</text></g></g>
<g transform="translate(1067.20,1740.00)"><g transform="scale(1,1.04)"><text x="-1.30" y="0" font-family="Liberation Sans" font-weight="700" font-size="32.92" fill="#000" xml:space="preserve">0Ca</text></g></g>
<g transform="translate(1143.60,1740.00)"><g transform="scale(1,1.04)"><text x="-0.81" y="0" font-family="Liberation Sans" font-weight="700" font-size="32.40" fill="#000" xml:space="preserve">Aga</text></g></g>
<g transform="translate(930.50,1594.40) rotate(-90) scale(1.1254,1.04)"><text x="-1.42" y="0" font-family="Liberation Sans" font-weight="700" font-size="35.00">Δ</text></g>
<g transform="translate(930.50,1567.20) rotate(-90) scale(0.8898,1.04)"><text x="-2.34" y="0" font-family="Liberation Sans" font-weight="700" font-size="35.00">F</text></g>
<g transform="translate(930.50,1550.30) rotate(-90) scale(1.2389,1.04)"><text x="-0.34" y="0" font-family="Liberation Sans" font-weight="700" font-size="35.00">/</text></g>
<g transform="translate(930.50,1538.00) rotate(-90) scale(0.8898,1.04)"><text x="-2.34" y="0" font-family="Liberation Sans" font-weight="700" font-size="35.00">F</text></g>
<g transform="translate(930.50,1520.10) rotate(-90) scale(1.0701,1.04)"><text x="-1.02" y="0" font-family="Liberation Sans" font-weight="400" font-size="26.00">0</text></g>
<line x1="139.40" y1="1825.00" x2="139.40" y2="2159.60" stroke="#000" stroke-width="3.4" stroke-linecap="butt"/>
<line x1="137.70" y1="2157.90" x2="670.20" y2="2157.90" stroke="#000" stroke-width="3.4" stroke-linecap="butt"/>
<line x1="127.30" y1="1879.40" x2="139.40" y2="1879.40" stroke="#000" stroke-width="1.9" stroke-linecap="butt"/>
<line x1="127.30" y1="1990.70" x2="139.40" y2="1990.70" stroke="#000" stroke-width="1.9" stroke-linecap="butt"/>
<line x1="127.30" y1="2102.00" x2="139.40" y2="2102.00" stroke="#000" stroke-width="1.9" stroke-linecap="butt"/>
<line x1="175.50" y1="2157.90" x2="175.50" y2="2170.20" stroke="#000" stroke-width="1.9" stroke-linecap="butt"/>
<line x1="315.90" y1="2157.90" x2="315.90" y2="2170.20" stroke="#000" stroke-width="1.9" stroke-linecap="butt"/>
<line x1="456.30" y1="2157.90" x2="456.30" y2="2170.20" stroke="#000" stroke-width="1.9" stroke-linecap="butt"/>
<line x1="596.70" y1="2157.90" x2="596.70" y2="2170.20" stroke="#000" stroke-width="1.9" stroke-linecap="butt"/>
<rect x="175.50" y="2139.80" width="31.60" height="6.30" fill="#888888"/>
<path d="M142.1,2088.0 L145.7,2097.7 L151.0,2103.1 L154.5,2104.4 L159.0,2109.0 L163.4,2100.7 L168.8,2095.0 L173.2,2100.7 L177.6,2107.7 L181.2,2092.9 L183.5,2070.5 L185.6,2046.3 L188.7,2017.1 L191.8,1993.3 L195.0,1960.4 L198.1,1931.0 L200.5,1915.1 L202.5,1905.2 L205.2,1894.7 L207.0,1895.8 L208.7,1901.0 L211.8,1918.7 L214.9,1936.4 L217.6,1948.5 L220.3,1958.4 L224.0,1966.6 L227.4,1973.8 L231.0,1980.1 L234.5,1985.1 L239.8,1989.9 L243.5,1998.0 L246.9,2006.8 L252.2,2006.7 L256.0,2012.8 L259.4,2014.1 L263.0,2020.1 L268.2,2026.2 L272.5,2027.9 L277.1,2031.2 L282.0,2032.9 L287.8,2034.9 L291.0,2039.9 L294.9,2046.0 L299.3,2045.1 L303.8,2041.0 L307.0,2041.3 L310.9,2046.5 L318.0,2045.9 L321.0,2051.5 L325.1,2053.9 L330.4,2055.9 L335.7,2060.6 L340.0,2060.1 L344.6,2056.9 L349.0,2060.0 L353.5,2066.0 L362.4,2062.2 L366.0,2065.6 L371.3,2065.4 L375.0,2062.9 L380.0,2065.6 L385.2,2064.8 L390.0,2072.1 L394.4,2076.5 L401.3,2067.8 L404.0,2073.5 L408.2,2076.9 L415.0,2081.1 L422.0,2078.4 L426.5,2079.8 L432.0,2077.1 L438.0,2078.4 L441.0,2080.2 L444.9,2089.9 L451.8,2082.7 L455.0,2089.3 L458.7,2088.1 L464.0,2084.9 L470.1,2080.5 L474.0,2075.7 L477.0,2078.9 L481.0,2085.0 L486.2,2080.1 L490.0,2083.9 L497.7,2084.4 L502.0,2085.3 L506.9,2087.0 L511.0,2089.2 L516.0,2092.9 L520.6,2085.7 L525.0,2084.6 L529.8,2087.5 L534.4,2078.5 L540.0,2083.4 L545.9,2087.8 L549.0,2090.6 L552.8,2085.9 L557.0,2084.1 L561.9,2083.5 L565.0,2089.4 L568.8,2088.3 L575.7,2084.6 L582.0,2090.9 L589.5,2089.8 L596.4,2086.7 L604.0,2090.5 L612.4,2092.6 L616.0,2092.9 L621.6,2095.8 L626.0,2093.4 L630.8,2094.2 L635.0,2089.0 L637.7,2089.6 L642.2,2087.5 L648.0,2092.6 L653.7,2097.2" fill="none" stroke="#a9a9a9" stroke-width="4.3" stroke-linejoin="round" stroke-linecap="round" />
<path d="M142.1,2089.6 L145.7,2100.3 L151.0,2097.6 L154.5,2097.6 L159.0,2104.7 L163.4,2098.5 L168.8,2094.1 L173.2,2100.3 L177.6,2104.2 L181.2,2089.6 L183.5,2070.0 L185.6,2048.8 L188.7,2019.0 L191.8,1990.1 L195.0,1960.0 L198.1,1933.3 L200.5,1921.0 L202.5,1915.5 L205.2,1910.2 L207.0,1912.0 L208.7,1915.5 L211.8,1927.0 L214.9,1940.4 L217.6,1951.5 L220.3,1961.7 L224.0,1970.5 L227.4,1977.7 L231.0,1983.5 L234.5,1987.5 L239.8,1991.0 L243.5,1998.5 L246.9,2007.0 L252.2,2011.5 L256.0,2014.0 L259.4,2017.7 L263.0,2022.5 L268.2,2028.3 L272.5,2030.5 L277.1,2031.0 L282.0,2034.0 L287.8,2037.2 L291.0,2040.0 L294.9,2045.2 L299.3,2049.7 L303.8,2042.6 L307.0,2044.5 L310.9,2047.9 L318.0,2049.7 L321.0,2052.5 L325.1,2055.0 L330.4,2057.6 L335.7,2063.9 L340.0,2062.0 L344.6,2060.3 L349.0,2064.0 L353.5,2066.5 L362.4,2065.6 L366.0,2064.0 L371.3,2064.8 L375.0,2068.3 L380.0,2066.0 L385.2,2068.2 L390.0,2073.0 L394.4,2077.4 L401.3,2073.2 L404.0,2075.0 L408.2,2078.5 L415.0,2080.0 L422.0,2082.0 L426.5,2079.2 L432.0,2080.5 L438.0,2080.1 L441.0,2083.0 L444.9,2087.7 L451.8,2082.4 L455.0,2085.0 L458.7,2087.7 L464.0,2084.0 L470.1,2079.7 L474.0,2078.0 L477.0,2080.1 L481.0,2083.0 L486.2,2082.0 L490.0,2084.5 L497.7,2085.4 L502.0,2085.0 L506.9,2088.8 L511.0,2090.5 L516.0,2093.4 L520.6,2086.5 L525.0,2087.5 L529.8,2086.5 L534.4,2082.4 L540.0,2087.0 L545.9,2091.6 L549.0,2089.5 L552.8,2087.7 L557.0,2087.2 L561.9,2087.0 L565.0,2089.5 L568.8,2091.6 L575.7,2088.4 L582.0,2090.5 L589.5,2093.4 L596.4,2088.4 L604.0,2091.5 L612.4,2094.6 L616.0,2094.0 L621.6,2093.9 L626.0,2095.5 L630.8,2098.0 L635.0,2094.0 L637.7,2091.1 L642.2,2089.3 L648.0,2093.0 L653.7,2099.2" fill="none" stroke="#000" stroke-width="4.3" stroke-linejoin="round" stroke-linecap="round" />
<g transform="translate(104.80,1891.90)"><g transform="scale(1,1.04)"><path d="M511,0 L808,0 L808,1409 L577,1409 Q440,1245 149,1062 L149,800 Q340,905 511,1000 Z" fill="#000" transform="translate(-2.51,0) scale(0.01685,-0.01685)"/></g></g>
<g transform="translate(103.70,2116.70)"><g transform="scale(1,1.04)"><text x="-1.36" y="0" font-family="Liberation Sans" font-weight="700" font-size="34.50" fill="#000" xml:space="preserve">0</text></g></g>
<g transform="translate(167.42,2202.80)"><g transform="scale(1,1.04)"><text x="-1.34" y="0" font-family="Liberation Sans" font-weight="700" font-size="34.00" fill="#000" xml:space="preserve">0</text></g></g>
<g transform="translate(307.44,2202.80)"><g transform="scale(1,1.04)"><text x="-1.05" y="0" font-family="Liberation Sans" font-weight="700" font-size="34.00" fill="#000" xml:space="preserve">5</text></g></g>
<g transform="translate(439.32,2202.80)"><g transform="scale(1,1.04)"><path d="M511,0 L808,0 L808,1409 L577,1409 Q440,1245 149,1062 L149,800 Q340,905 511,1000 Z" fill="#000" transform="translate(-2.47,0) scale(0.01660,-0.01660)"/><text x="16.44" y="0" font-family="Liberation Sans" font-weight="700" font-size="34.00" fill="#000" xml:space="preserve">0</text></g></g>
<g transform="translate(579.50,2202.80)"><g transform="scale(1,1.04)"><path d="M511,0 L808,0 L808,1409 L577,1409 Q440,1245 149,1062 L149,800 Q340,905 511,1000 Z" fill="#000" transform="translate(-2.47,0) scale(0.01660,-0.01660)"/><text x="16.44" y="0" font-family="Liberation Sans" font-weight="700" font-size="34.00" fill="#000" xml:space="preserve">5</text></g></g>
<g transform="translate(322.70,2237.00)"><g transform="scale(1,1.04)"><text x="-0.37" y="0" font-family="Liberation Sans" font-weight="700" font-size="33.10" fill="#000" xml:space="preserve">Time (s)</text></g></g>
<g transform="translate(20.70,1867.90)"><g transform="scale(1,1.0877830627421763)"><text x="-4.25" y="0" font-family="Liberation Sans" font-weight="700" font-size="63.47" fill="#000" xml:space="preserve">F</text></g></g>
<line x1="575.10" y1="1973.50" x2="610.20" y2="1973.50" stroke="#a9a9a9" stroke-width="4.4" stroke-linecap="round"/>
<line x1="575.10" y1="2006.80" x2="610.20" y2="2006.80" stroke="#000" stroke-width="4.4" stroke-linecap="round"/>
<g transform="translate(623.10,1982.70)"><g transform="scale(1,1.04)"><text x="-0.03" y="0" font-family="Liberation Sans" font-weight="700" font-size="25.60" fill="#000" xml:space="preserve">WT</text></g></g>
<g transform="translate(624.70,2016.20)"><g transform="scale(1,1.04)"><text x="-1.74" y="0" font-family="Liberation Sans" font-weight="700" font-size="25.95" fill="#000" xml:space="preserve">KO</text></g></g>
<g transform="translate(93.40,2033.70) rotate(-90) scale(0.9809,1.0)"><text x="-1.31" y="0" font-family="Liberation Serif" font-weight="400" font-size="34.50">Δ</text></g>
<g transform="translate(93.40,2011.60) rotate(-90) scale(0.8970,1.04)"><text x="-2.31" y="0" font-family="Liberation Sans" font-weight="700" font-size="34.50">F</text></g>
<g transform="translate(93.40,1994.00) rotate(-90) scale(1.0212,1.04)"><text x="-0.34" y="0" font-family="Liberation Sans" font-weight="700" font-size="34.50">/</text></g>
<g transform="translate(93.40,1981.90) rotate(-90) scale(0.9084,1.04)"><text x="-2.31" y="0" font-family="Liberation Sans" font-weight="700" font-size="34.50">F</text></g>
<g transform="translate(96.40,1963.60) rotate(-90) scale(1.0057,1.04)"><text x="-1.02" y="0" font-family="Liberation Sans" font-weight="400" font-size="26.00">0</text></g>
<g transform="translate(711.10,1867.90)"><g transform="scale(1,1.0568178410419953)"><text x="-2.59" y="0" font-family="Liberation Sans" font-weight="700" font-size="63.13" fill="#000" xml:space="preserve">G</text></g></g>
<line x1="840.00" y1="1839.40" x2="840.00" y2="2158.00" stroke="#000" stroke-width="3.4" stroke-linecap="butt"/>
<line x1="838.30" y1="2156.40" x2="998.10" y2="2156.40" stroke="#000" stroke-width="3.3" stroke-linecap="butt"/>
<line x1="828.40" y1="1841.10" x2="840.00" y2="1841.10" stroke="#000" stroke-width="1.8" stroke-linecap="butt"/>
<line x1="828.40" y1="1998.75" x2="840.00" y2="1998.75" stroke="#000" stroke-width="1.8" stroke-linecap="butt"/>
<line x1="828.40" y1="2156.40" x2="840.00" y2="2156.40" stroke="#000" stroke-width="1.8" stroke-linecap="butt"/>
<g transform="translate(798.70,1853.10)"><g transform="scale(1,1.04)"><path d="M511,0 L808,0 L808,1409 L577,1409 Q440,1245 149,1062 L149,800 Q340,905 511,1000 Z" fill="#000" transform="translate(-2.60,0) scale(0.01745,-0.01745)"/></g></g>
<g transform="translate(797.80,2170.60)"><g transform="scale(1,1.04)"><text x="-1.38" y="0" font-family="Liberation Sans" font-weight="700" font-size="34.90" fill="#000" xml:space="preserve">0</text></g></g>
<rect x="859.75" y="1855.95" width="40.20" height="300.45" fill="#fff" stroke="#000" stroke-width="3.1"/>
<rect x="937.30" y="1877.10" width="42.40" height="279.30" fill="#000"/>
<line x1="879.50" y1="1843.50" x2="879.50" y2="1868.60" stroke="#000" stroke-width="2.6" stroke-linecap="butt"/>
<line x1="876.60" y1="1843.50" x2="882.40" y2="1843.50" stroke="#000" stroke-width="3.4" stroke-linecap="butt"/>
<line x1="876.60" y1="1868.60" x2="882.40" y2="1868.60" stroke="#000" stroke-width="3.4" stroke-linecap="butt"/>
<line x1="958.40" y1="1861.80" x2="958.40" y2="1879.00" stroke="#000" stroke-width="2.8" stroke-linecap="butt"/>
<line x1="955.60" y1="1861.80" x2="961.20" y2="1861.80" stroke="#000" stroke-width="3.6" stroke-linecap="butt"/>
<g transform="translate(851.90,2193.80)"><g transform="scale(1,1.04)"><text x="-0.03" y="0" font-family="Liberation Sans" font-weight="700" font-size="33.25" fill="#000" xml:space="preserve">WT</text></g></g>
<g transform="translate(938.20,2193.80)"><g transform="scale(1,1.04)"><text x="-2.27" y="0" font-family="Liberation Sans" font-weight="700" font-size="33.93" fill="#000" xml:space="preserve">KO</text></g></g>
<g transform="translate(784.00,2044.90) rotate(-90) scale(1.0537,1.04)"><text x="-1.42" y="0" font-family="Liberation Sans" font-weight="700" font-size="35.00">Δ</text></g>
<g transform="translate(784.00,2018.70) rotate(-90) scale(0.8842,1.04)"><text x="-2.34" y="0" font-family="Liberation Sans" font-weight="700" font-size="35.00">F</text></g>
<g transform="translate(784.00,2001.00) rotate(-90) scale(0.9734,1.04)"><text x="-0.34" y="0" font-family="Liberation Sans" font-weight="700" font-size="35.00">/</text></g>
<g transform="translate(784.00,1988.80) rotate(-90) scale(0.8842,1.04)"><text x="-2.34" y="0" font-family="Liberation Sans" font-weight="700" font-size="35.00">F</text></g>
<g transform="translate(784.00,1970.60) rotate(-90) scale(1.0057,1.04)"><text x="-1.02" y="0" font-family="Liberation Sans" font-weight="400" font-size="26.00">0</text></g>
<g transform="translate(1075.70,1868.00)"><g transform="scale(1,1.0704809739586196)"><text x="-4.14" y="0" font-family="Liberation Sans" font-weight="700" font-size="61.92" fill="#000" xml:space="preserve">H</text></g></g>
<line x1="1175.40" y1="1839.40" x2="1175.40" y2="2158.00" stroke="#000" stroke-width="3.3" stroke-linecap="butt"/>
<line x1="1173.70" y1="2156.30" x2="1332.80" y2="2156.30" stroke="#000" stroke-width="3.3" stroke-linecap="butt"/>
<line x1="1164.20" y1="1841.10" x2="1175.40" y2="1841.10" stroke="#000" stroke-width="1.8" stroke-linecap="butt"/>
<line x1="1164.20" y1="1998.70" x2="1175.40" y2="1998.70" stroke="#000" stroke-width="1.8" stroke-linecap="butt"/>
<line x1="1164.20" y1="2156.30" x2="1175.40" y2="2156.30" stroke="#000" stroke-width="1.8" stroke-linecap="butt"/>
<g transform="translate(1138.20,1853.30)"><g transform="scale(1,1.04)"><text x="-0.51" y="0" font-family="Liberation Sans" font-weight="700" font-size="33.98" fill="#000" xml:space="preserve">4</text></g></g>
<g transform="translate(1139.70,2011.20)"><g transform="scale(1,1.04)"><text x="-1.15" y="0" font-family="Liberation Sans" font-weight="700" font-size="33.23" fill="#000" xml:space="preserve">2</text></g></g>
<g transform="translate(1139.50,2170.60)"><g transform="scale(1,1.04)"><text x="-1.36" y="0" font-family="Liberation Sans" font-weight="700" font-size="34.27" fill="#000" xml:space="preserve">0</text></g></g>
<rect x="1195.10" y="1925.40" width="39.40" height="230.90" fill="#fff" stroke="#000" stroke-width="3.0"/>
<rect x="1272.20" y="1910.80" width="42.80" height="245.50" fill="#000"/>
<line x1="1214.75" y1="1911.10" x2="1214.75" y2="1939.70" stroke="#000" stroke-width="2.6" stroke-linecap="butt"/>
<line x1="1211.95" y1="1911.10" x2="1217.55" y2="1911.10" stroke="#000" stroke-width="3.4" stroke-linecap="butt"/>
<line x1="1211.95" y1="1939.70" x2="1217.55" y2="1939.70" stroke="#000" stroke-width="3.4" stroke-linecap="butt"/>
<line x1="1293.50" y1="1903.10" x2="1293.50" y2="1912.00" stroke="#000" stroke-width="2.8" stroke-linecap="butt"/>
<line x1="1290.70" y1="1903.10" x2="1296.30" y2="1903.10" stroke="#000" stroke-width="3.6" stroke-linecap="butt"/>
<g transform="translate(1188.10,2193.80)"><g transform="scale(1,1.04)"><text x="-0.03" y="0" font-family="Liberation Sans" font-weight="700" font-size="33.18" fill="#000" xml:space="preserve">WT</text></g></g>
<g transform="translate(1274.80,2193.80)"><g transform="scale(1,1.04)"><text x="-2.24" y="0" font-family="Liberation Sans" font-weight="700" font-size="33.50" fill="#000" xml:space="preserve">KO</text></g></g>
<g transform="translate(1125.60,2009.70) rotate(-90) scale(0.9934,1.0)"><text x="-0.99" y="0" font-family="Liberation Serif" font-weight="400" font-size="45.00">τ</text></g>
</svg></body></html>
